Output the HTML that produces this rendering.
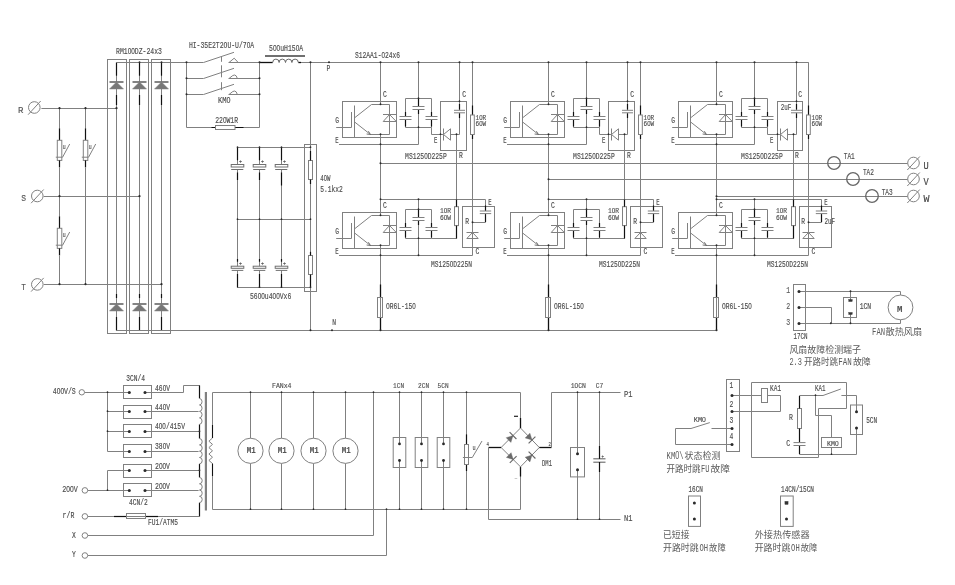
<!DOCTYPE html>
<html><head><meta charset="utf-8"><title>Inverter main circuit</title>
<style>
html,body{margin:0;padding:0;background:#fff;}
svg{display:block;font-family:"Liberation Sans","Noto Sans CJK SC",sans-serif;}
</style></head><body>
<svg width="955" height="585" viewBox="0 0 955 585">
<rect x="0" y="0" width="955" height="585" fill="#fff"/>
<defs><filter id="gs" x="0" y="0" width="955" height="585" filterUnits="userSpaceOnUse" color-interpolation-filters="sRGB"><feColorMatrix type="saturate" values="0"/></filter></defs>
<g filter="url(#gs)">
<circle cx="34.3" cy="107.5" r="5.8" fill="none" stroke="#808080" stroke-width="1"/>
<line x1="28.1" y1="114.7" x2="40.7" y2="101.0" stroke="#808080" stroke-width="1"/>
<circle cx="37.3" cy="196.0" r="5.8" fill="none" stroke="#808080" stroke-width="1"/>
<line x1="31.1" y1="203.2" x2="43.7" y2="189.5" stroke="#808080" stroke-width="1"/>
<circle cx="37.3" cy="284.4" r="5.8" fill="none" stroke="#808080" stroke-width="1"/>
<line x1="31.1" y1="291.6" x2="43.7" y2="277.9" stroke="#808080" stroke-width="1"/>
<text x="17.9" y="113.0" font-size="9.98" fill="#555" stroke="#555" stroke-width="0.15" font-family="Liberation Mono, monospace" textLength="5.4" lengthAdjust="spacingAndGlyphs">R</text>
<text x="21.3" y="200.8" font-size="9.77" fill="#555" stroke="#555" stroke-width="0.15" font-family="Liberation Mono, monospace" textLength="4.8" lengthAdjust="spacingAndGlyphs">S</text>
<text x="21.3" y="289.8" font-size="9.77" fill="#555" stroke="#555" stroke-width="0.15" font-family="Liberation Mono, monospace" textLength="4.7" lengthAdjust="spacingAndGlyphs">T</text>
<line x1="41.4" y1="108.5" x2="116.5" y2="108.5" stroke="#808080" stroke-width="1"/>
<line x1="43.7" y1="196.5" x2="139.5" y2="196.5" stroke="#808080" stroke-width="1"/>
<line x1="43.7" y1="284.5" x2="161.5" y2="284.5" stroke="#808080" stroke-width="1"/>
<line x1="59.5" y1="108.5" x2="59.5" y2="128.3" stroke="#808080" stroke-width="1"/>
<line x1="59.5" y1="128.3" x2="59.5" y2="140.3" stroke="#111" stroke-width="1.2"/>
<rect x="57.3" y="140.3" width="4.5" height="20.1" fill="#fff" stroke="#808080" stroke-width="1"/>
<line x1="59.5" y1="160.4" x2="59.5" y2="167.4" stroke="#111" stroke-width="1.2"/>
<line x1="59.5" y1="167.4" x2="59.5" y2="196.5" stroke="#808080" stroke-width="1"/>
<line x1="55.8" y1="157.2" x2="62.6" y2="157.2" stroke="#808080" stroke-width="1"/>
<line x1="62.6" y1="157.2" x2="69.7" y2="144.0" stroke="#808080" stroke-width="1"/>
<text x="62.7" y="148.6" font-size="6.51" fill="#4c4c4c" stroke="#4c4c4c" stroke-width="0.15" font-family="Liberation Mono, monospace" textLength="2.9" lengthAdjust="spacingAndGlyphs">u</text>
<line x1="85.5" y1="108.5" x2="85.5" y2="128.3" stroke="#808080" stroke-width="1"/>
<line x1="85.5" y1="128.3" x2="85.5" y2="140.3" stroke="#111" stroke-width="1.2"/>
<rect x="83.3" y="140.3" width="4.5" height="20.1" fill="#fff" stroke="#808080" stroke-width="1"/>
<line x1="85.5" y1="160.4" x2="85.5" y2="167.4" stroke="#111" stroke-width="1.2"/>
<line x1="85.5" y1="167.4" x2="85.5" y2="284.5" stroke="#808080" stroke-width="1"/>
<line x1="81.8" y1="157.2" x2="88.6" y2="157.2" stroke="#808080" stroke-width="1"/>
<line x1="88.6" y1="157.2" x2="95.7" y2="144.0" stroke="#808080" stroke-width="1"/>
<text x="88.7" y="148.6" font-size="6.51" fill="#4c4c4c" stroke="#4c4c4c" stroke-width="0.15" font-family="Liberation Mono, monospace" textLength="2.9" lengthAdjust="spacingAndGlyphs">u</text>
<line x1="59.5" y1="196.5" x2="59.5" y2="216.3" stroke="#808080" stroke-width="1"/>
<line x1="59.5" y1="216.3" x2="59.5" y2="228.3" stroke="#111" stroke-width="1.2"/>
<rect x="57.3" y="228.3" width="4.5" height="20.1" fill="#fff" stroke="#808080" stroke-width="1"/>
<line x1="59.5" y1="248.4" x2="59.5" y2="255.4" stroke="#111" stroke-width="1.2"/>
<line x1="59.5" y1="255.4" x2="59.5" y2="284.5" stroke="#808080" stroke-width="1"/>
<line x1="55.8" y1="245.2" x2="62.6" y2="245.2" stroke="#808080" stroke-width="1"/>
<line x1="62.6" y1="245.2" x2="69.7" y2="232.0" stroke="#808080" stroke-width="1"/>
<text x="62.7" y="236.6" font-size="6.51" fill="#4c4c4c" stroke="#4c4c4c" stroke-width="0.15" font-family="Liberation Mono, monospace" textLength="2.9" lengthAdjust="spacingAndGlyphs">u</text>
<rect x="107.5" y="59.5" width="19.0" height="274.0" fill="none" stroke="#808080" stroke-width="1"/>
<line x1="116.5" y1="62.5" x2="116.5" y2="330.5" stroke="#808080" stroke-width="1"/>
<line x1="116.5" y1="62.5" x2="116.5" y2="75.7" stroke="#111" stroke-width="1.2"/>
<line x1="116.5" y1="95.0" x2="116.5" y2="105.0" stroke="#111" stroke-width="1.2"/>
<line x1="116.5" y1="294.0" x2="116.5" y2="298.0" stroke="#111" stroke-width="1.2"/>
<line x1="116.5" y1="317.0" x2="116.5" y2="330.5" stroke="#111" stroke-width="1.2"/>
<line x1="109.5" y1="82.0" x2="123.5" y2="82.0" stroke="#777" stroke-width="1.8"/>
<polygon points="116.5,82.0 109.5,89.0 123.5,89.0" fill="#777" stroke="#808080" stroke-width="0.5"/>
<line x1="109.5" y1="304.0" x2="123.5" y2="304.0" stroke="#777" stroke-width="1.8"/>
<polygon points="116.5,304.0 109.5,311.0 123.5,311.0" fill="#777" stroke="#808080" stroke-width="0.5"/>
<rect x="129.5" y="59.5" width="19.0" height="274.0" fill="none" stroke="#808080" stroke-width="1"/>
<line x1="139.5" y1="62.5" x2="139.5" y2="330.5" stroke="#808080" stroke-width="1"/>
<line x1="139.5" y1="62.5" x2="139.5" y2="75.7" stroke="#111" stroke-width="1.2"/>
<line x1="139.5" y1="95.0" x2="139.5" y2="105.0" stroke="#111" stroke-width="1.2"/>
<line x1="139.5" y1="294.0" x2="139.5" y2="298.0" stroke="#111" stroke-width="1.2"/>
<line x1="139.5" y1="317.0" x2="139.5" y2="330.5" stroke="#111" stroke-width="1.2"/>
<line x1="132.5" y1="82.0" x2="146.5" y2="82.0" stroke="#777" stroke-width="1.8"/>
<polygon points="139.5,82.0 132.5,89.0 146.5,89.0" fill="#777" stroke="#808080" stroke-width="0.5"/>
<line x1="132.5" y1="304.0" x2="146.5" y2="304.0" stroke="#777" stroke-width="1.8"/>
<polygon points="139.5,304.0 132.5,311.0 146.5,311.0" fill="#777" stroke="#808080" stroke-width="0.5"/>
<rect x="151.5" y="59.5" width="19.0" height="274.0" fill="none" stroke="#808080" stroke-width="1"/>
<line x1="161.5" y1="62.5" x2="161.5" y2="330.5" stroke="#808080" stroke-width="1"/>
<line x1="161.5" y1="62.5" x2="161.5" y2="75.7" stroke="#111" stroke-width="1.2"/>
<line x1="161.5" y1="95.0" x2="161.5" y2="105.0" stroke="#111" stroke-width="1.2"/>
<line x1="161.5" y1="294.0" x2="161.5" y2="298.0" stroke="#111" stroke-width="1.2"/>
<line x1="161.5" y1="317.0" x2="161.5" y2="330.5" stroke="#111" stroke-width="1.2"/>
<line x1="154.5" y1="82.0" x2="168.5" y2="82.0" stroke="#777" stroke-width="1.8"/>
<polygon points="161.5,82.0 154.5,89.0 168.5,89.0" fill="#777" stroke="#808080" stroke-width="0.5"/>
<line x1="154.5" y1="304.0" x2="168.5" y2="304.0" stroke="#777" stroke-width="1.8"/>
<polygon points="161.5,304.0 154.5,311.0 168.5,311.0" fill="#777" stroke="#808080" stroke-width="0.5"/>
<line x1="116.5" y1="62.5" x2="186.5" y2="62.5" stroke="#808080" stroke-width="1"/>
<line x1="116.5" y1="330.5" x2="310.5" y2="330.5" stroke="#808080" stroke-width="1"/>
<text x="116.0" y="53.8" font-size="8.46" fill="#4c4c4c" stroke="#4c4c4c" stroke-width="0.15" font-family="Liberation Mono, monospace" textLength="46.0" lengthAdjust="spacingAndGlyphs">RM1<tspan font-family="Liberation Sans, sans-serif">0</tspan><tspan font-family="Liberation Sans, sans-serif">0</tspan>DZ-24x3</text>
<line x1="186.5" y1="62.5" x2="186.5" y2="127.5" stroke="#808080" stroke-width="1"/>
<line x1="259.5" y1="62.5" x2="259.5" y2="127.5" stroke="#808080" stroke-width="1"/>
<line x1="186.5" y1="62.5" x2="203.5" y2="62.5" stroke="#808080" stroke-width="1"/>
<line x1="203.5" y1="62.5" x2="234.0" y2="52.3" stroke="#808080" stroke-width="1"/>
<line x1="228.5" y1="62.5" x2="259.5" y2="62.5" stroke="#808080" stroke-width="1"/>
<polyline points="229.0,62.5 234.2,58.2 238.2,62.5" fill="none" stroke="#808080" stroke-width="1"/>
<line x1="186.5" y1="78.5" x2="203.5" y2="78.5" stroke="#808080" stroke-width="1"/>
<line x1="203.5" y1="78.5" x2="234.0" y2="68.3" stroke="#808080" stroke-width="1"/>
<line x1="228.5" y1="78.5" x2="259.5" y2="78.5" stroke="#808080" stroke-width="1"/>
<path d="M229,78.5 L232.8,75.5 Q234.8,74.3 236.2,75.9 L237.4,78.5" fill="none" stroke="#808080" stroke-width="1"/>
<line x1="186.5" y1="94.5" x2="203.5" y2="94.5" stroke="#808080" stroke-width="1"/>
<line x1="203.5" y1="94.5" x2="234.0" y2="84.3" stroke="#808080" stroke-width="1"/>
<line x1="228.5" y1="94.5" x2="259.5" y2="94.5" stroke="#808080" stroke-width="1"/>
<path d="M229,94.5 L232.8,91.5 Q234.8,90.3 236.2,91.9 L237.4,94.5" fill="none" stroke="#808080" stroke-width="1"/>
<line x1="221.5" y1="56.0" x2="221.5" y2="61.8" stroke="#808080" stroke-width="1"/>
<line x1="221.5" y1="65.3" x2="221.5" y2="77.3" stroke="#808080" stroke-width="1"/>
<line x1="221.5" y1="82.2" x2="221.5" y2="90.2" stroke="#808080" stroke-width="1"/>
<line x1="186.5" y1="127.5" x2="259.5" y2="127.5" stroke="#808080" stroke-width="1"/>
<line x1="211.5" y1="127.5" x2="243.5" y2="127.5" stroke="#111" stroke-width="1.2"/>
<rect x="215.5" y="125.5" width="19.5" height="4.0" fill="#fff" stroke="#808080" stroke-width="1"/>
<text x="188.9" y="48.2" font-size="8.68" fill="#4c4c4c" stroke="#4c4c4c" stroke-width="0.15" font-family="Liberation Mono, monospace" textLength="65.2" lengthAdjust="spacingAndGlyphs">HI-35E2T2OU-U/7<tspan font-family="Liberation Sans, sans-serif">0</tspan>A</text>
<text x="218.0" y="102.8" font-size="8.14" fill="#4c4c4c" stroke="#4c4c4c" stroke-width="0.15" font-family="Liberation Mono, monospace" textLength="12.5" lengthAdjust="spacingAndGlyphs">KM<tspan font-family="Liberation Sans, sans-serif">0</tspan></text>
<text x="215.2" y="122.8" font-size="8.14" fill="#4c4c4c" stroke="#4c4c4c" stroke-width="0.15" font-family="Liberation Mono, monospace" textLength="22.8" lengthAdjust="spacingAndGlyphs">22<tspan font-family="Liberation Sans, sans-serif">0</tspan>W1R</text>
<text x="269.1" y="50.9" font-size="8.14" fill="#4c4c4c" stroke="#4c4c4c" stroke-width="0.15" font-family="Liberation Mono, monospace" textLength="34.0" lengthAdjust="spacingAndGlyphs">5<tspan font-family="Liberation Sans, sans-serif">0</tspan><tspan font-family="Liberation Sans, sans-serif">0</tspan>uH15<tspan font-family="Liberation Sans, sans-serif">0</tspan>A</text>
<line x1="265.0" y1="56.0" x2="305.0" y2="56.0" stroke="#707070" stroke-width="2"/>
<line x1="259.5" y1="62.5" x2="272.7" y2="62.5" stroke="#111" stroke-width="1.3"/>
<line x1="298.3" y1="62.5" x2="301.0" y2="62.5" stroke="#111" stroke-width="1.3"/>
<path d="M272.7,62.5 a3.2,3.4 0 0 1 6.4,0 a3.2,3.4 0 0 1 6.4,0 a3.2,3.4 0 0 1 6.4,0 a3.2,3.4 0 0 1 6.4,0" fill="none" stroke="#666" stroke-width="1"/>
<line x1="301.0" y1="62.5" x2="808.5" y2="62.5" stroke="#808080" stroke-width="1"/>
<text x="326.6" y="71.0" font-size="8.46" fill="#4c4c4c" stroke="#4c4c4c" stroke-width="0.15" font-family="Liberation Mono, monospace" textLength="3.8" lengthAdjust="spacingAndGlyphs">P</text>
<text x="332.3" y="324.6" font-size="8.46" fill="#4c4c4c" stroke="#4c4c4c" stroke-width="0.15" font-family="Liberation Mono, monospace" textLength="3.8" lengthAdjust="spacingAndGlyphs">N</text>
<line x1="310.5" y1="62.5" x2="310.5" y2="330.5" stroke="#808080" stroke-width="1"/>
<rect x="304.5" y="144.5" width="12.0" height="147.0" fill="none" stroke="#808080" stroke-width="1"/>
<line x1="237.5" y1="147.5" x2="310.5" y2="147.5" stroke="#808080" stroke-width="1"/>
<line x1="237.5" y1="219.5" x2="310.5" y2="219.5" stroke="#808080" stroke-width="1"/>
<line x1="237.5" y1="287.5" x2="310.5" y2="287.5" stroke="#808080" stroke-width="1"/>
<line x1="237.5" y1="147.5" x2="237.5" y2="287.5" stroke="#808080" stroke-width="1"/>
<line x1="237.5" y1="148.0" x2="237.5" y2="160.3" stroke="#111" stroke-width="1.2"/>
<line x1="237.5" y1="172.5" x2="237.5" y2="180.0" stroke="#111" stroke-width="1.2"/>
<rect x="231.2" y="164.5" width="12.6" height="5.0" fill="#fff" stroke="#fff" stroke-width="0"/>
<rect x="231.2" y="164.5" width="12.6" height="2.5" fill="none" stroke="#707070" stroke-width="1"/>
<line x1="231.2" y1="169.5" x2="243.3" y2="169.5" stroke="#707070" stroke-width="1"/>
<text x="239.1" y="163.3" font-size="5.42" fill="#4c4c4c" stroke="#4c4c4c" stroke-width="0.15" font-family="Liberation Mono, monospace" textLength="3.0" lengthAdjust="spacingAndGlyphs">+</text>
<line x1="237.5" y1="259.0" x2="237.5" y2="261.7" stroke="#111" stroke-width="1.2"/>
<line x1="237.5" y1="274.0" x2="237.5" y2="287.5" stroke="#111" stroke-width="1.2"/>
<rect x="231.2" y="266.2" width="12.6" height="4.2" fill="#fff" stroke="#fff" stroke-width="0"/>
<rect x="231.2" y="266.2" width="12.6" height="2.1" fill="none" stroke="#707070" stroke-width="1"/>
<line x1="231.7" y1="270.4" x2="243.3" y2="270.4" stroke="#707070" stroke-width="1"/>
<text x="239.1" y="264.8" font-size="5.42" fill="#4c4c4c" stroke="#4c4c4c" stroke-width="0.15" font-family="Liberation Mono, monospace" textLength="3.0" lengthAdjust="spacingAndGlyphs">+</text>
<line x1="259.5" y1="147.5" x2="259.5" y2="287.5" stroke="#808080" stroke-width="1"/>
<line x1="259.5" y1="148.0" x2="259.5" y2="160.3" stroke="#111" stroke-width="1.2"/>
<line x1="259.5" y1="172.5" x2="259.5" y2="180.0" stroke="#111" stroke-width="1.2"/>
<rect x="253.2" y="164.5" width="12.6" height="5.0" fill="#fff" stroke="#fff" stroke-width="0"/>
<rect x="253.2" y="164.5" width="12.6" height="2.5" fill="none" stroke="#707070" stroke-width="1"/>
<line x1="253.2" y1="169.5" x2="265.3" y2="169.5" stroke="#707070" stroke-width="1"/>
<text x="261.1" y="163.3" font-size="5.42" fill="#4c4c4c" stroke="#4c4c4c" stroke-width="0.15" font-family="Liberation Mono, monospace" textLength="3.0" lengthAdjust="spacingAndGlyphs">+</text>
<line x1="259.5" y1="259.0" x2="259.5" y2="261.7" stroke="#111" stroke-width="1.2"/>
<line x1="259.5" y1="274.0" x2="259.5" y2="287.5" stroke="#111" stroke-width="1.2"/>
<rect x="253.2" y="266.2" width="12.6" height="4.2" fill="#fff" stroke="#fff" stroke-width="0"/>
<rect x="253.2" y="266.2" width="12.6" height="2.1" fill="none" stroke="#707070" stroke-width="1"/>
<line x1="253.7" y1="270.4" x2="265.3" y2="270.4" stroke="#707070" stroke-width="1"/>
<text x="261.1" y="264.8" font-size="5.42" fill="#4c4c4c" stroke="#4c4c4c" stroke-width="0.15" font-family="Liberation Mono, monospace" textLength="3.0" lengthAdjust="spacingAndGlyphs">+</text>
<line x1="281.5" y1="147.5" x2="281.5" y2="287.5" stroke="#808080" stroke-width="1"/>
<line x1="281.5" y1="148.0" x2="281.5" y2="160.3" stroke="#111" stroke-width="1.2"/>
<line x1="281.5" y1="172.5" x2="281.5" y2="185.5" stroke="#111" stroke-width="1.2"/>
<rect x="275.2" y="164.5" width="12.6" height="5.0" fill="#fff" stroke="#fff" stroke-width="0"/>
<rect x="275.2" y="164.5" width="12.6" height="2.5" fill="none" stroke="#707070" stroke-width="1"/>
<line x1="275.2" y1="169.5" x2="287.3" y2="169.5" stroke="#707070" stroke-width="1"/>
<text x="283.1" y="163.3" font-size="5.42" fill="#4c4c4c" stroke="#4c4c4c" stroke-width="0.15" font-family="Liberation Mono, monospace" textLength="3.0" lengthAdjust="spacingAndGlyphs">+</text>
<line x1="281.5" y1="259.0" x2="281.5" y2="261.7" stroke="#111" stroke-width="1.2"/>
<line x1="281.5" y1="274.0" x2="281.5" y2="287.5" stroke="#111" stroke-width="1.2"/>
<rect x="275.2" y="266.2" width="12.6" height="4.2" fill="#fff" stroke="#fff" stroke-width="0"/>
<rect x="275.2" y="266.2" width="12.6" height="2.1" fill="none" stroke="#707070" stroke-width="1"/>
<line x1="275.7" y1="270.4" x2="287.3" y2="270.4" stroke="#707070" stroke-width="1"/>
<text x="283.1" y="264.8" font-size="5.42" fill="#4c4c4c" stroke="#4c4c4c" stroke-width="0.15" font-family="Liberation Mono, monospace" textLength="3.0" lengthAdjust="spacingAndGlyphs">+</text>
<rect x="308.5" y="160.5" width="4.0" height="19.0" fill="#fff" stroke="#808080" stroke-width="1"/>
<line x1="310.5" y1="151.0" x2="310.5" y2="160.5" stroke="#111" stroke-width="1.2"/>
<line x1="310.5" y1="179.5" x2="310.5" y2="184.0" stroke="#111" stroke-width="1.2"/>
<rect x="308.5" y="255.5" width="4.0" height="19.0" fill="#fff" stroke="#808080" stroke-width="1"/>
<line x1="310.5" y1="251.8" x2="310.5" y2="255.5" stroke="#111" stroke-width="1.2"/>
<line x1="310.5" y1="274.5" x2="310.5" y2="287.5" stroke="#111" stroke-width="1.2"/>
<text x="320.3" y="181.0" font-size="8.14" fill="#4c4c4c" stroke="#4c4c4c" stroke-width="0.15" font-family="Liberation Mono, monospace" textLength="10.0" lengthAdjust="spacingAndGlyphs">4<tspan font-family="Liberation Sans, sans-serif">0</tspan>W</text>
<text x="320.3" y="191.8" font-size="8.14" fill="#4c4c4c" stroke="#4c4c4c" stroke-width="0.15" font-family="Liberation Mono, monospace" textLength="22.5" lengthAdjust="spacingAndGlyphs">5.1kx2</text>
<text x="250.0" y="298.6" font-size="8.14" fill="#4c4c4c" stroke="#4c4c4c" stroke-width="0.15" font-family="Liberation Mono, monospace" textLength="41.3" lengthAdjust="spacingAndGlyphs">56<tspan font-family="Liberation Sans, sans-serif">0</tspan><tspan font-family="Liberation Sans, sans-serif">0</tspan>u4<tspan font-family="Liberation Sans, sans-serif">0</tspan><tspan font-family="Liberation Sans, sans-serif">0</tspan>Vx6</text>
<line x1="380.5" y1="62.5" x2="380.5" y2="104.5" stroke="#808080" stroke-width="1"/>
<rect x="342.5" y="101.5" width="54.0" height="36.0" fill="none" stroke="#808080" stroke-width="1"/>
<line x1="351.5" y1="112.0" x2="351.5" y2="127.5" stroke="#808080" stroke-width="1"/>
<line x1="336.2" y1="127.5" x2="351.5" y2="127.5" stroke="#808080" stroke-width="1"/>
<line x1="354.5" y1="105.5" x2="354.5" y2="137.0" stroke="#808080" stroke-width="1"/>
<polyline points="354.5,117.9 371.5,104.5 389.5,104.5 389.5,134.5 370.0,134.5" fill="none" stroke="#808080" stroke-width="1"/>
<line x1="354.5" y1="121.9" x2="370.5" y2="134.5" stroke="#808080" stroke-width="1"/>
<polyline points="366.6,134.0 370.5,134.5 368.4,131.2" fill="none" stroke="#666" stroke-width="0.9"/>
<line x1="383.0" y1="114.5" x2="396.5" y2="114.5" stroke="#808080" stroke-width="1"/>
<polygon points="389.5,114.5 383.2,121.5 396.3,121.5" fill="none" stroke="#808080" stroke-width="1"/>
<text x="335.3" y="122.8" font-size="8.14" fill="#4c4c4c" stroke="#4c4c4c" stroke-width="0.15" font-family="Liberation Mono, monospace" textLength="3.8" lengthAdjust="spacingAndGlyphs">G</text>
<text x="335.3" y="142.9" font-size="8.14" fill="#4c4c4c" stroke="#4c4c4c" stroke-width="0.15" font-family="Liberation Mono, monospace" textLength="3.4" lengthAdjust="spacingAndGlyphs">E</text>
<text x="383.1" y="96.7" font-size="8.14" fill="#4c4c4c" stroke="#4c4c4c" stroke-width="0.15" font-family="Liberation Mono, monospace" textLength="3.8" lengthAdjust="spacingAndGlyphs">C</text>
<line x1="339.0" y1="144.5" x2="418.5" y2="144.5" stroke="#808080" stroke-width="1"/>
<line x1="380.5" y1="134.5" x2="380.5" y2="215.0" stroke="#808080" stroke-width="1"/>
<line x1="418.5" y1="62.5" x2="418.5" y2="144.5" stroke="#808080" stroke-width="1"/>
<polyline points="405.5,127.5 405.5,98.5 431.5,98.5 431.5,127.5" fill="none" stroke="#808080" stroke-width="1"/>
<line x1="405.5" y1="127.5" x2="431.5" y2="127.5" stroke="#808080" stroke-width="1"/>
<rect x="412.5" y="106.5" width="12.0" height="3.0" fill="#fff" stroke="#fff" stroke-width="0"/>
<line x1="412.5" y1="106.5" x2="424.5" y2="106.5" stroke="#808080" stroke-width="1"/>
<line x1="412.5" y1="109.5" x2="424.5" y2="109.5" stroke="#808080" stroke-width="1"/>
<line x1="418.5" y1="99.0" x2="418.5" y2="106.0" stroke="#111" stroke-width="1.2"/>
<line x1="418.5" y1="110.0" x2="418.5" y2="114.0" stroke="#111" stroke-width="1.2"/>
<rect x="399.5" y="116.5" width="12.0" height="3.0" fill="#fff" stroke="#fff" stroke-width="0"/>
<line x1="399.5" y1="116.5" x2="411.5" y2="116.5" stroke="#808080" stroke-width="1"/>
<line x1="399.5" y1="119.5" x2="411.5" y2="119.5" stroke="#808080" stroke-width="1"/>
<line x1="405.5" y1="112.0" x2="405.5" y2="116.0" stroke="#111" stroke-width="1.2"/>
<line x1="405.5" y1="120.0" x2="405.5" y2="126.5" stroke="#111" stroke-width="1.2"/>
<rect x="425.5" y="116.5" width="12.0" height="3.0" fill="#fff" stroke="#fff" stroke-width="0"/>
<line x1="425.5" y1="116.5" x2="437.5" y2="116.5" stroke="#808080" stroke-width="1"/>
<line x1="425.5" y1="119.5" x2="437.5" y2="119.5" stroke="#808080" stroke-width="1"/>
<line x1="431.5" y1="112.0" x2="431.5" y2="116.0" stroke="#111" stroke-width="1.2"/>
<line x1="431.5" y1="120.0" x2="431.5" y2="126.5" stroke="#111" stroke-width="1.2"/>
<polyline points="431.5,127.5 431.5,134.5 441.0,134.5" fill="none" stroke="#808080" stroke-width="1"/>
<rect x="440.5" y="101.5" width="26.0" height="49.0" fill="none" stroke="#808080" stroke-width="1"/>
<line x1="459.5" y1="62.5" x2="459.5" y2="134.5" stroke="#808080" stroke-width="1"/>
<rect x="454.0" y="110.3" width="11.0" height="2.5" fill="#fff" stroke="#fff" stroke-width="0"/>
<line x1="454.0" y1="110.3" x2="465.0" y2="110.3" stroke="#808080" stroke-width="1"/>
<line x1="454.0" y1="112.8" x2="465.0" y2="112.8" stroke="#808080" stroke-width="1"/>
<line x1="459.5" y1="104.0" x2="459.5" y2="109.5" stroke="#111" stroke-width="1.2"/>
<line x1="459.5" y1="113.5" x2="459.5" y2="118.0" stroke="#111" stroke-width="1.2"/>
<line x1="440.5" y1="134.5" x2="459.5" y2="134.5" stroke="#808080" stroke-width="1"/>
<line x1="443.5" y1="128.5" x2="443.5" y2="140.5" stroke="#808080" stroke-width="1"/>
<polygon points="443.5,134.5 450.5,128.8 450.5,140.2" fill="#fff" stroke="#808080" stroke-width="1"/>
<text x="462.2" y="96.7" font-size="8.14" fill="#4c4c4c" stroke="#4c4c4c" stroke-width="0.15" font-family="Liberation Mono, monospace" textLength="3.8" lengthAdjust="spacingAndGlyphs">C</text>
<text x="434.0" y="143.2" font-size="8.14" fill="#4c4c4c" stroke="#4c4c4c" stroke-width="0.15" font-family="Liberation Mono, monospace" textLength="3.4" lengthAdjust="spacingAndGlyphs">E</text>
<text x="458.9" y="158.4" font-size="8.14" fill="#4c4c4c" stroke="#4c4c4c" stroke-width="0.15" font-family="Liberation Mono, monospace" textLength="3.8" lengthAdjust="spacingAndGlyphs">R</text>
<text x="405.1" y="158.6" font-size="8.68" fill="#4c4c4c" stroke="#4c4c4c" stroke-width="0.15" font-family="Liberation Mono, monospace" textLength="41.6" lengthAdjust="spacingAndGlyphs">MS125<tspan font-family="Liberation Sans, sans-serif">0</tspan>D225P</text>
<line x1="456.5" y1="134.5" x2="456.5" y2="238.5" stroke="#808080" stroke-width="1"/>
<line x1="472.5" y1="62.5" x2="472.5" y2="255.5" stroke="#808080" stroke-width="1"/>
<line x1="472.5" y1="105.5" x2="472.5" y2="115.0" stroke="#111" stroke-width="1.2"/>
<line x1="472.5" y1="134.5" x2="472.5" y2="139.0" stroke="#111" stroke-width="1.2"/>
<rect x="470.5" y="115.0" width="3.8" height="19.5" fill="#fff" stroke="#808080" stroke-width="1"/>
<text x="475.6" y="120.2" font-size="7.59" fill="#4c4c4c" stroke="#4c4c4c" stroke-width="0.15" font-family="Liberation Mono, monospace" textLength="10.5" lengthAdjust="spacingAndGlyphs">1<tspan font-family="Liberation Sans, sans-serif">0</tspan>R</text>
<text x="475.6" y="125.8" font-size="7.59" fill="#4c4c4c" stroke="#4c4c4c" stroke-width="0.15" font-family="Liberation Mono, monospace" textLength="10.5" lengthAdjust="spacingAndGlyphs">6<tspan font-family="Liberation Sans, sans-serif">0</tspan>W</text>
<line x1="380.5" y1="199.5" x2="485.5" y2="199.5" stroke="#808080" stroke-width="1"/>
<rect x="342.5" y="212.5" width="54.0" height="36.0" fill="none" stroke="#808080" stroke-width="1"/>
<line x1="351.5" y1="223.0" x2="351.5" y2="238.5" stroke="#808080" stroke-width="1"/>
<line x1="336.2" y1="238.5" x2="351.5" y2="238.5" stroke="#808080" stroke-width="1"/>
<line x1="354.5" y1="216.5" x2="354.5" y2="248.0" stroke="#808080" stroke-width="1"/>
<polyline points="354.5,228.9 371.5,215.5 389.5,215.5 389.5,245.5 370.0,245.5" fill="none" stroke="#808080" stroke-width="1"/>
<line x1="354.5" y1="232.9" x2="370.5" y2="245.5" stroke="#808080" stroke-width="1"/>
<polyline points="366.6,245.0 370.5,245.5 368.4,242.2" fill="none" stroke="#666" stroke-width="0.9"/>
<line x1="383.0" y1="225.5" x2="396.5" y2="225.5" stroke="#808080" stroke-width="1"/>
<polygon points="389.5,225.5 383.2,232.5 396.3,232.5" fill="none" stroke="#808080" stroke-width="1"/>
<text x="335.3" y="233.8" font-size="8.14" fill="#4c4c4c" stroke="#4c4c4c" stroke-width="0.15" font-family="Liberation Mono, monospace" textLength="3.8" lengthAdjust="spacingAndGlyphs">G</text>
<text x="335.3" y="253.9" font-size="8.14" fill="#4c4c4c" stroke="#4c4c4c" stroke-width="0.15" font-family="Liberation Mono, monospace" textLength="3.4" lengthAdjust="spacingAndGlyphs">E</text>
<text x="383.1" y="207.7" font-size="8.14" fill="#4c4c4c" stroke="#4c4c4c" stroke-width="0.15" font-family="Liberation Mono, monospace" textLength="3.8" lengthAdjust="spacingAndGlyphs">C</text>
<line x1="339.0" y1="255.5" x2="418.5" y2="255.5" stroke="#808080" stroke-width="1"/>
<line x1="380.5" y1="245.5" x2="380.5" y2="297.0" stroke="#808080" stroke-width="1"/>
<line x1="418.5" y1="255.5" x2="472.5" y2="255.5" stroke="#808080" stroke-width="1"/>
<line x1="418.5" y1="199.5" x2="418.5" y2="255.5" stroke="#808080" stroke-width="1"/>
<polyline points="405.5,238.5 405.5,209.5 431.5,209.5 431.5,238.5" fill="none" stroke="#808080" stroke-width="1"/>
<line x1="405.5" y1="238.5" x2="431.5" y2="238.5" stroke="#808080" stroke-width="1"/>
<rect x="412.5" y="217.5" width="12.0" height="3.0" fill="#fff" stroke="#fff" stroke-width="0"/>
<line x1="412.5" y1="217.5" x2="424.5" y2="217.5" stroke="#808080" stroke-width="1"/>
<line x1="412.5" y1="220.5" x2="424.5" y2="220.5" stroke="#808080" stroke-width="1"/>
<line x1="418.5" y1="210.0" x2="418.5" y2="217.0" stroke="#111" stroke-width="1.2"/>
<line x1="418.5" y1="221.0" x2="418.5" y2="225.0" stroke="#111" stroke-width="1.2"/>
<rect x="399.5" y="227.5" width="12.0" height="3.0" fill="#fff" stroke="#fff" stroke-width="0"/>
<line x1="399.5" y1="227.5" x2="411.5" y2="227.5" stroke="#808080" stroke-width="1"/>
<line x1="399.5" y1="230.5" x2="411.5" y2="230.5" stroke="#808080" stroke-width="1"/>
<line x1="405.5" y1="223.0" x2="405.5" y2="227.0" stroke="#111" stroke-width="1.2"/>
<line x1="405.5" y1="231.0" x2="405.5" y2="237.5" stroke="#111" stroke-width="1.2"/>
<rect x="425.5" y="227.5" width="12.0" height="3.0" fill="#fff" stroke="#fff" stroke-width="0"/>
<line x1="425.5" y1="227.5" x2="437.5" y2="227.5" stroke="#808080" stroke-width="1"/>
<line x1="425.5" y1="230.5" x2="437.5" y2="230.5" stroke="#808080" stroke-width="1"/>
<line x1="431.5" y1="223.0" x2="431.5" y2="227.0" stroke="#111" stroke-width="1.2"/>
<line x1="431.5" y1="231.0" x2="431.5" y2="237.5" stroke="#111" stroke-width="1.2"/>
<line x1="431.5" y1="238.5" x2="456.5" y2="238.5" stroke="#808080" stroke-width="1"/>
<rect x="454.5" y="206.7" width="4.0" height="18.9" fill="#fff" stroke="#808080" stroke-width="1"/>
<line x1="456.5" y1="199.5" x2="456.5" y2="206.7" stroke="#111" stroke-width="1.2"/>
<line x1="456.5" y1="225.6" x2="456.5" y2="238.5" stroke="#111" stroke-width="1.2"/>
<text x="440.0" y="212.9" font-size="7.59" fill="#4c4c4c" stroke="#4c4c4c" stroke-width="0.15" font-family="Liberation Mono, monospace" textLength="11.0" lengthAdjust="spacingAndGlyphs">1<tspan font-family="Liberation Sans, sans-serif">0</tspan>R</text>
<text x="440.0" y="220.2" font-size="7.59" fill="#4c4c4c" stroke="#4c4c4c" stroke-width="0.15" font-family="Liberation Mono, monospace" textLength="11.0" lengthAdjust="spacingAndGlyphs">6<tspan font-family="Liberation Sans, sans-serif">0</tspan>W</text>
<rect x="462.5" y="206.5" width="32.0" height="41.0" fill="none" stroke="#808080" stroke-width="1"/>
<line x1="485.5" y1="199.5" x2="485.5" y2="222.5" stroke="#808080" stroke-width="1"/>
<line x1="472.5" y1="222.5" x2="485.5" y2="222.5" stroke="#808080" stroke-width="1"/>
<rect x="479.8" y="211.0" width="11.4" height="2.6" fill="#fff" stroke="#fff" stroke-width="0"/>
<line x1="479.8" y1="211.0" x2="491.2" y2="211.0" stroke="#808080" stroke-width="1"/>
<line x1="479.8" y1="213.6" x2="491.2" y2="213.6" stroke="#808080" stroke-width="1"/>
<line x1="485.5" y1="205.5" x2="485.5" y2="210.5" stroke="#111" stroke-width="1.2"/>
<line x1="485.5" y1="214.2" x2="485.5" y2="222.0" stroke="#111" stroke-width="1.2"/>
<line x1="466.5" y1="232.5" x2="478.5" y2="232.5" stroke="#808080" stroke-width="1"/>
<polygon points="472.5,232.5 466.8,238.5 478.2,238.5" fill="#fff" stroke="#808080" stroke-width="1"/>
<line x1="472.5" y1="232.5" x2="472.5" y2="238.5" stroke="#808080" stroke-width="1"/>
<text x="488.2" y="204.6" font-size="8.14" fill="#4c4c4c" stroke="#4c4c4c" stroke-width="0.15" font-family="Liberation Mono, monospace" textLength="3.4" lengthAdjust="spacingAndGlyphs">E</text>
<text x="465.3" y="223.9" font-size="8.14" fill="#4c4c4c" stroke="#4c4c4c" stroke-width="0.15" font-family="Liberation Mono, monospace" textLength="3.8" lengthAdjust="spacingAndGlyphs">R</text>
<text x="475.6" y="253.9" font-size="8.14" fill="#4c4c4c" stroke="#4c4c4c" stroke-width="0.15" font-family="Liberation Mono, monospace" textLength="3.8" lengthAdjust="spacingAndGlyphs">C</text>
<text x="431.0" y="266.9" font-size="8.68" fill="#4c4c4c" stroke="#4c4c4c" stroke-width="0.15" font-family="Liberation Mono, monospace" textLength="41.0" lengthAdjust="spacingAndGlyphs">MS125<tspan font-family="Liberation Sans, sans-serif">0</tspan>D225N</text>
<line x1="380.5" y1="284.5" x2="380.5" y2="297.2" stroke="#111" stroke-width="1.3"/>
<line x1="380.5" y1="317.3" x2="380.5" y2="330.5" stroke="#111" stroke-width="1.3"/>
<line x1="380.5" y1="297.0" x2="380.5" y2="317.5" stroke="#808080" stroke-width="1"/>
<rect x="377.5" y="297.5" width="5.0" height="20.0" fill="none" stroke="#808080" stroke-width="1"/>
<text x="386.0" y="308.8" font-size="8.79" fill="#4c4c4c" stroke="#4c4c4c" stroke-width="0.15" font-family="Liberation Mono, monospace" textLength="29.8" lengthAdjust="spacingAndGlyphs">OR6L-15<tspan font-family="Liberation Sans, sans-serif">0</tspan></text>
<line x1="548.5" y1="62.5" x2="548.5" y2="104.5" stroke="#808080" stroke-width="1"/>
<rect x="510.5" y="101.5" width="54.0" height="36.0" fill="none" stroke="#808080" stroke-width="1"/>
<line x1="519.5" y1="112.0" x2="519.5" y2="127.5" stroke="#808080" stroke-width="1"/>
<line x1="504.2" y1="127.5" x2="519.5" y2="127.5" stroke="#808080" stroke-width="1"/>
<line x1="522.5" y1="105.5" x2="522.5" y2="137.0" stroke="#808080" stroke-width="1"/>
<polyline points="522.5,117.9 539.5,104.5 557.5,104.5 557.5,134.5 538.0,134.5" fill="none" stroke="#808080" stroke-width="1"/>
<line x1="522.5" y1="121.9" x2="538.5" y2="134.5" stroke="#808080" stroke-width="1"/>
<polyline points="534.6,134.0 538.5,134.5 536.4,131.2" fill="none" stroke="#666" stroke-width="0.9"/>
<line x1="551.0" y1="114.5" x2="564.5" y2="114.5" stroke="#808080" stroke-width="1"/>
<polygon points="557.5,114.5 551.2,121.5 564.3,121.5" fill="none" stroke="#808080" stroke-width="1"/>
<text x="503.3" y="122.8" font-size="8.14" fill="#4c4c4c" stroke="#4c4c4c" stroke-width="0.15" font-family="Liberation Mono, monospace" textLength="3.8" lengthAdjust="spacingAndGlyphs">G</text>
<text x="503.3" y="142.9" font-size="8.14" fill="#4c4c4c" stroke="#4c4c4c" stroke-width="0.15" font-family="Liberation Mono, monospace" textLength="3.4" lengthAdjust="spacingAndGlyphs">E</text>
<text x="551.1" y="96.7" font-size="8.14" fill="#4c4c4c" stroke="#4c4c4c" stroke-width="0.15" font-family="Liberation Mono, monospace" textLength="3.8" lengthAdjust="spacingAndGlyphs">C</text>
<line x1="507.0" y1="144.5" x2="586.5" y2="144.5" stroke="#808080" stroke-width="1"/>
<line x1="548.5" y1="134.5" x2="548.5" y2="215.0" stroke="#808080" stroke-width="1"/>
<line x1="586.5" y1="62.5" x2="586.5" y2="144.5" stroke="#808080" stroke-width="1"/>
<polyline points="573.5,127.5 573.5,98.5 599.5,98.5 599.5,127.5" fill="none" stroke="#808080" stroke-width="1"/>
<line x1="573.5" y1="127.5" x2="599.5" y2="127.5" stroke="#808080" stroke-width="1"/>
<rect x="580.5" y="106.5" width="12.0" height="3.0" fill="#fff" stroke="#fff" stroke-width="0"/>
<line x1="580.5" y1="106.5" x2="592.5" y2="106.5" stroke="#808080" stroke-width="1"/>
<line x1="580.5" y1="109.5" x2="592.5" y2="109.5" stroke="#808080" stroke-width="1"/>
<line x1="586.5" y1="99.0" x2="586.5" y2="106.0" stroke="#111" stroke-width="1.2"/>
<line x1="586.5" y1="110.0" x2="586.5" y2="114.0" stroke="#111" stroke-width="1.2"/>
<rect x="567.5" y="116.5" width="12.0" height="3.0" fill="#fff" stroke="#fff" stroke-width="0"/>
<line x1="567.5" y1="116.5" x2="579.5" y2="116.5" stroke="#808080" stroke-width="1"/>
<line x1="567.5" y1="119.5" x2="579.5" y2="119.5" stroke="#808080" stroke-width="1"/>
<line x1="573.5" y1="112.0" x2="573.5" y2="116.0" stroke="#111" stroke-width="1.2"/>
<line x1="573.5" y1="120.0" x2="573.5" y2="126.5" stroke="#111" stroke-width="1.2"/>
<rect x="593.5" y="116.5" width="12.0" height="3.0" fill="#fff" stroke="#fff" stroke-width="0"/>
<line x1="593.5" y1="116.5" x2="605.5" y2="116.5" stroke="#808080" stroke-width="1"/>
<line x1="593.5" y1="119.5" x2="605.5" y2="119.5" stroke="#808080" stroke-width="1"/>
<line x1="599.5" y1="112.0" x2="599.5" y2="116.0" stroke="#111" stroke-width="1.2"/>
<line x1="599.5" y1="120.0" x2="599.5" y2="126.5" stroke="#111" stroke-width="1.2"/>
<polyline points="599.5,127.5 599.5,134.5 609.0,134.5" fill="none" stroke="#808080" stroke-width="1"/>
<rect x="608.5" y="101.5" width="26.0" height="49.0" fill="none" stroke="#808080" stroke-width="1"/>
<line x1="627.5" y1="62.5" x2="627.5" y2="134.5" stroke="#808080" stroke-width="1"/>
<rect x="622.0" y="110.3" width="11.0" height="2.5" fill="#fff" stroke="#fff" stroke-width="0"/>
<line x1="622.0" y1="110.3" x2="633.0" y2="110.3" stroke="#808080" stroke-width="1"/>
<line x1="622.0" y1="112.8" x2="633.0" y2="112.8" stroke="#808080" stroke-width="1"/>
<line x1="627.5" y1="104.0" x2="627.5" y2="109.5" stroke="#111" stroke-width="1.2"/>
<line x1="627.5" y1="113.5" x2="627.5" y2="118.0" stroke="#111" stroke-width="1.2"/>
<line x1="608.5" y1="134.5" x2="627.5" y2="134.5" stroke="#808080" stroke-width="1"/>
<line x1="611.5" y1="128.5" x2="611.5" y2="140.5" stroke="#808080" stroke-width="1"/>
<polygon points="611.5,134.5 618.5,128.8 618.5,140.2" fill="#fff" stroke="#808080" stroke-width="1"/>
<text x="630.2" y="96.7" font-size="8.14" fill="#4c4c4c" stroke="#4c4c4c" stroke-width="0.15" font-family="Liberation Mono, monospace" textLength="3.8" lengthAdjust="spacingAndGlyphs">C</text>
<text x="602.0" y="143.2" font-size="8.14" fill="#4c4c4c" stroke="#4c4c4c" stroke-width="0.15" font-family="Liberation Mono, monospace" textLength="3.4" lengthAdjust="spacingAndGlyphs">E</text>
<text x="626.9" y="158.4" font-size="8.14" fill="#4c4c4c" stroke="#4c4c4c" stroke-width="0.15" font-family="Liberation Mono, monospace" textLength="3.8" lengthAdjust="spacingAndGlyphs">R</text>
<text x="573.1" y="158.6" font-size="8.68" fill="#4c4c4c" stroke="#4c4c4c" stroke-width="0.15" font-family="Liberation Mono, monospace" textLength="41.6" lengthAdjust="spacingAndGlyphs">MS125<tspan font-family="Liberation Sans, sans-serif">0</tspan>D225P</text>
<line x1="624.5" y1="134.5" x2="624.5" y2="238.5" stroke="#808080" stroke-width="1"/>
<line x1="640.5" y1="62.5" x2="640.5" y2="255.5" stroke="#808080" stroke-width="1"/>
<line x1="640.5" y1="105.5" x2="640.5" y2="115.0" stroke="#111" stroke-width="1.2"/>
<line x1="640.5" y1="134.5" x2="640.5" y2="139.0" stroke="#111" stroke-width="1.2"/>
<rect x="638.5" y="115.0" width="3.8" height="19.5" fill="#fff" stroke="#808080" stroke-width="1"/>
<text x="643.6" y="120.2" font-size="7.59" fill="#4c4c4c" stroke="#4c4c4c" stroke-width="0.15" font-family="Liberation Mono, monospace" textLength="10.5" lengthAdjust="spacingAndGlyphs">1<tspan font-family="Liberation Sans, sans-serif">0</tspan>R</text>
<text x="643.6" y="125.8" font-size="7.59" fill="#4c4c4c" stroke="#4c4c4c" stroke-width="0.15" font-family="Liberation Mono, monospace" textLength="10.5" lengthAdjust="spacingAndGlyphs">6<tspan font-family="Liberation Sans, sans-serif">0</tspan>W</text>
<line x1="548.5" y1="199.5" x2="653.5" y2="199.5" stroke="#808080" stroke-width="1"/>
<rect x="510.5" y="212.5" width="54.0" height="36.0" fill="none" stroke="#808080" stroke-width="1"/>
<line x1="519.5" y1="223.0" x2="519.5" y2="238.5" stroke="#808080" stroke-width="1"/>
<line x1="504.2" y1="238.5" x2="519.5" y2="238.5" stroke="#808080" stroke-width="1"/>
<line x1="522.5" y1="216.5" x2="522.5" y2="248.0" stroke="#808080" stroke-width="1"/>
<polyline points="522.5,228.9 539.5,215.5 557.5,215.5 557.5,245.5 538.0,245.5" fill="none" stroke="#808080" stroke-width="1"/>
<line x1="522.5" y1="232.9" x2="538.5" y2="245.5" stroke="#808080" stroke-width="1"/>
<polyline points="534.6,245.0 538.5,245.5 536.4,242.2" fill="none" stroke="#666" stroke-width="0.9"/>
<line x1="551.0" y1="225.5" x2="564.5" y2="225.5" stroke="#808080" stroke-width="1"/>
<polygon points="557.5,225.5 551.2,232.5 564.3,232.5" fill="none" stroke="#808080" stroke-width="1"/>
<text x="503.3" y="233.8" font-size="8.14" fill="#4c4c4c" stroke="#4c4c4c" stroke-width="0.15" font-family="Liberation Mono, monospace" textLength="3.8" lengthAdjust="spacingAndGlyphs">G</text>
<text x="503.3" y="253.9" font-size="8.14" fill="#4c4c4c" stroke="#4c4c4c" stroke-width="0.15" font-family="Liberation Mono, monospace" textLength="3.4" lengthAdjust="spacingAndGlyphs">E</text>
<text x="551.1" y="207.7" font-size="8.14" fill="#4c4c4c" stroke="#4c4c4c" stroke-width="0.15" font-family="Liberation Mono, monospace" textLength="3.8" lengthAdjust="spacingAndGlyphs">C</text>
<line x1="507.0" y1="255.5" x2="586.5" y2="255.5" stroke="#808080" stroke-width="1"/>
<line x1="548.5" y1="245.5" x2="548.5" y2="297.0" stroke="#808080" stroke-width="1"/>
<line x1="586.5" y1="255.5" x2="640.5" y2="255.5" stroke="#808080" stroke-width="1"/>
<line x1="586.5" y1="199.5" x2="586.5" y2="255.5" stroke="#808080" stroke-width="1"/>
<polyline points="573.5,238.5 573.5,209.5 599.5,209.5 599.5,238.5" fill="none" stroke="#808080" stroke-width="1"/>
<line x1="573.5" y1="238.5" x2="599.5" y2="238.5" stroke="#808080" stroke-width="1"/>
<rect x="580.5" y="217.5" width="12.0" height="3.0" fill="#fff" stroke="#fff" stroke-width="0"/>
<line x1="580.5" y1="217.5" x2="592.5" y2="217.5" stroke="#808080" stroke-width="1"/>
<line x1="580.5" y1="220.5" x2="592.5" y2="220.5" stroke="#808080" stroke-width="1"/>
<line x1="586.5" y1="210.0" x2="586.5" y2="217.0" stroke="#111" stroke-width="1.2"/>
<line x1="586.5" y1="221.0" x2="586.5" y2="225.0" stroke="#111" stroke-width="1.2"/>
<rect x="567.5" y="227.5" width="12.0" height="3.0" fill="#fff" stroke="#fff" stroke-width="0"/>
<line x1="567.5" y1="227.5" x2="579.5" y2="227.5" stroke="#808080" stroke-width="1"/>
<line x1="567.5" y1="230.5" x2="579.5" y2="230.5" stroke="#808080" stroke-width="1"/>
<line x1="573.5" y1="223.0" x2="573.5" y2="227.0" stroke="#111" stroke-width="1.2"/>
<line x1="573.5" y1="231.0" x2="573.5" y2="237.5" stroke="#111" stroke-width="1.2"/>
<rect x="593.5" y="227.5" width="12.0" height="3.0" fill="#fff" stroke="#fff" stroke-width="0"/>
<line x1="593.5" y1="227.5" x2="605.5" y2="227.5" stroke="#808080" stroke-width="1"/>
<line x1="593.5" y1="230.5" x2="605.5" y2="230.5" stroke="#808080" stroke-width="1"/>
<line x1="599.5" y1="223.0" x2="599.5" y2="227.0" stroke="#111" stroke-width="1.2"/>
<line x1="599.5" y1="231.0" x2="599.5" y2="237.5" stroke="#111" stroke-width="1.2"/>
<line x1="599.5" y1="238.5" x2="624.5" y2="238.5" stroke="#808080" stroke-width="1"/>
<rect x="622.5" y="206.7" width="4.0" height="18.9" fill="#fff" stroke="#808080" stroke-width="1"/>
<line x1="624.5" y1="199.5" x2="624.5" y2="206.7" stroke="#111" stroke-width="1.2"/>
<line x1="624.5" y1="225.6" x2="624.5" y2="238.5" stroke="#111" stroke-width="1.2"/>
<text x="608.0" y="212.9" font-size="7.59" fill="#4c4c4c" stroke="#4c4c4c" stroke-width="0.15" font-family="Liberation Mono, monospace" textLength="11.0" lengthAdjust="spacingAndGlyphs">1<tspan font-family="Liberation Sans, sans-serif">0</tspan>R</text>
<text x="608.0" y="220.2" font-size="7.59" fill="#4c4c4c" stroke="#4c4c4c" stroke-width="0.15" font-family="Liberation Mono, monospace" textLength="11.0" lengthAdjust="spacingAndGlyphs">6<tspan font-family="Liberation Sans, sans-serif">0</tspan>W</text>
<rect x="630.5" y="206.5" width="32.0" height="41.0" fill="none" stroke="#808080" stroke-width="1"/>
<line x1="653.5" y1="199.5" x2="653.5" y2="222.5" stroke="#808080" stroke-width="1"/>
<line x1="640.5" y1="222.5" x2="653.5" y2="222.5" stroke="#808080" stroke-width="1"/>
<rect x="647.8" y="211.0" width="11.4" height="2.6" fill="#fff" stroke="#fff" stroke-width="0"/>
<line x1="647.8" y1="211.0" x2="659.2" y2="211.0" stroke="#808080" stroke-width="1"/>
<line x1="647.8" y1="213.6" x2="659.2" y2="213.6" stroke="#808080" stroke-width="1"/>
<line x1="653.5" y1="205.5" x2="653.5" y2="210.5" stroke="#111" stroke-width="1.2"/>
<line x1="653.5" y1="214.2" x2="653.5" y2="222.0" stroke="#111" stroke-width="1.2"/>
<line x1="634.5" y1="232.5" x2="646.5" y2="232.5" stroke="#808080" stroke-width="1"/>
<polygon points="640.5,232.5 634.8,238.5 646.2,238.5" fill="#fff" stroke="#808080" stroke-width="1"/>
<line x1="640.5" y1="232.5" x2="640.5" y2="238.5" stroke="#808080" stroke-width="1"/>
<text x="656.2" y="204.6" font-size="8.14" fill="#4c4c4c" stroke="#4c4c4c" stroke-width="0.15" font-family="Liberation Mono, monospace" textLength="3.4" lengthAdjust="spacingAndGlyphs">E</text>
<text x="633.3" y="223.9" font-size="8.14" fill="#4c4c4c" stroke="#4c4c4c" stroke-width="0.15" font-family="Liberation Mono, monospace" textLength="3.8" lengthAdjust="spacingAndGlyphs">R</text>
<text x="643.6" y="253.9" font-size="8.14" fill="#4c4c4c" stroke="#4c4c4c" stroke-width="0.15" font-family="Liberation Mono, monospace" textLength="3.8" lengthAdjust="spacingAndGlyphs">C</text>
<text x="599.0" y="266.9" font-size="8.68" fill="#4c4c4c" stroke="#4c4c4c" stroke-width="0.15" font-family="Liberation Mono, monospace" textLength="41.0" lengthAdjust="spacingAndGlyphs">MS125<tspan font-family="Liberation Sans, sans-serif">0</tspan>D225N</text>
<line x1="548.5" y1="284.5" x2="548.5" y2="297.2" stroke="#111" stroke-width="1.3"/>
<line x1="548.5" y1="317.3" x2="548.5" y2="330.5" stroke="#111" stroke-width="1.3"/>
<line x1="548.5" y1="297.0" x2="548.5" y2="317.5" stroke="#808080" stroke-width="1"/>
<rect x="545.5" y="297.5" width="5.0" height="20.0" fill="none" stroke="#808080" stroke-width="1"/>
<text x="554.0" y="308.8" font-size="8.79" fill="#4c4c4c" stroke="#4c4c4c" stroke-width="0.15" font-family="Liberation Mono, monospace" textLength="29.8" lengthAdjust="spacingAndGlyphs">OR6L-15<tspan font-family="Liberation Sans, sans-serif">0</tspan></text>
<line x1="716.5" y1="62.5" x2="716.5" y2="104.5" stroke="#808080" stroke-width="1"/>
<rect x="678.5" y="101.5" width="54.0" height="36.0" fill="none" stroke="#808080" stroke-width="1"/>
<line x1="687.5" y1="112.0" x2="687.5" y2="127.5" stroke="#808080" stroke-width="1"/>
<line x1="672.2" y1="127.5" x2="687.5" y2="127.5" stroke="#808080" stroke-width="1"/>
<line x1="690.5" y1="105.5" x2="690.5" y2="137.0" stroke="#808080" stroke-width="1"/>
<polyline points="690.5,117.9 707.5,104.5 725.5,104.5 725.5,134.5 706.0,134.5" fill="none" stroke="#808080" stroke-width="1"/>
<line x1="690.5" y1="121.9" x2="706.5" y2="134.5" stroke="#808080" stroke-width="1"/>
<polyline points="702.6,134.0 706.5,134.5 704.4,131.2" fill="none" stroke="#666" stroke-width="0.9"/>
<line x1="719.0" y1="114.5" x2="732.5" y2="114.5" stroke="#808080" stroke-width="1"/>
<polygon points="725.5,114.5 719.2,121.5 732.3,121.5" fill="none" stroke="#808080" stroke-width="1"/>
<text x="671.3" y="122.8" font-size="8.14" fill="#4c4c4c" stroke="#4c4c4c" stroke-width="0.15" font-family="Liberation Mono, monospace" textLength="3.8" lengthAdjust="spacingAndGlyphs">G</text>
<text x="671.3" y="142.9" font-size="8.14" fill="#4c4c4c" stroke="#4c4c4c" stroke-width="0.15" font-family="Liberation Mono, monospace" textLength="3.4" lengthAdjust="spacingAndGlyphs">E</text>
<text x="719.1" y="96.7" font-size="8.14" fill="#4c4c4c" stroke="#4c4c4c" stroke-width="0.15" font-family="Liberation Mono, monospace" textLength="3.8" lengthAdjust="spacingAndGlyphs">C</text>
<line x1="675.0" y1="144.5" x2="754.5" y2="144.5" stroke="#808080" stroke-width="1"/>
<line x1="716.5" y1="134.5" x2="716.5" y2="215.0" stroke="#808080" stroke-width="1"/>
<line x1="754.5" y1="62.5" x2="754.5" y2="144.5" stroke="#808080" stroke-width="1"/>
<polyline points="741.5,127.5 741.5,98.5 767.5,98.5 767.5,127.5" fill="none" stroke="#808080" stroke-width="1"/>
<line x1="741.5" y1="127.5" x2="767.5" y2="127.5" stroke="#808080" stroke-width="1"/>
<rect x="748.5" y="106.5" width="12.0" height="3.0" fill="#fff" stroke="#fff" stroke-width="0"/>
<line x1="748.5" y1="106.5" x2="760.5" y2="106.5" stroke="#808080" stroke-width="1"/>
<line x1="748.5" y1="109.5" x2="760.5" y2="109.5" stroke="#808080" stroke-width="1"/>
<line x1="754.5" y1="99.0" x2="754.5" y2="106.0" stroke="#111" stroke-width="1.2"/>
<line x1="754.5" y1="110.0" x2="754.5" y2="114.0" stroke="#111" stroke-width="1.2"/>
<rect x="735.5" y="116.5" width="12.0" height="3.0" fill="#fff" stroke="#fff" stroke-width="0"/>
<line x1="735.5" y1="116.5" x2="747.5" y2="116.5" stroke="#808080" stroke-width="1"/>
<line x1="735.5" y1="119.5" x2="747.5" y2="119.5" stroke="#808080" stroke-width="1"/>
<line x1="741.5" y1="112.0" x2="741.5" y2="116.0" stroke="#111" stroke-width="1.2"/>
<line x1="741.5" y1="120.0" x2="741.5" y2="126.5" stroke="#111" stroke-width="1.2"/>
<rect x="761.5" y="116.5" width="12.0" height="3.0" fill="#fff" stroke="#fff" stroke-width="0"/>
<line x1="761.5" y1="116.5" x2="773.5" y2="116.5" stroke="#808080" stroke-width="1"/>
<line x1="761.5" y1="119.5" x2="773.5" y2="119.5" stroke="#808080" stroke-width="1"/>
<line x1="767.5" y1="112.0" x2="767.5" y2="116.0" stroke="#111" stroke-width="1.2"/>
<line x1="767.5" y1="120.0" x2="767.5" y2="126.5" stroke="#111" stroke-width="1.2"/>
<polyline points="767.5,127.5 767.5,134.5 778.0,134.5" fill="none" stroke="#808080" stroke-width="1"/>
<rect x="777.5" y="101.5" width="25.0" height="49.0" fill="none" stroke="#808080" stroke-width="1"/>
<line x1="796.5" y1="62.5" x2="796.5" y2="134.5" stroke="#808080" stroke-width="1"/>
<rect x="791.0" y="110.3" width="10.7" height="2.5" fill="#fff" stroke="#fff" stroke-width="0"/>
<line x1="791.0" y1="110.3" x2="802.5" y2="110.3" stroke="#808080" stroke-width="1"/>
<line x1="791.0" y1="112.8" x2="802.5" y2="112.8" stroke="#808080" stroke-width="1"/>
<line x1="796.5" y1="104.0" x2="796.5" y2="109.5" stroke="#111" stroke-width="1.2"/>
<line x1="796.5" y1="113.5" x2="796.5" y2="118.0" stroke="#111" stroke-width="1.2"/>
<line x1="777.5" y1="134.5" x2="796.5" y2="134.5" stroke="#808080" stroke-width="1"/>
<line x1="780.5" y1="128.5" x2="780.5" y2="140.5" stroke="#808080" stroke-width="1"/>
<polygon points="780.5,134.5 787.5,128.8 787.5,140.2" fill="#fff" stroke="#808080" stroke-width="1"/>
<text x="798.2" y="96.7" font-size="8.14" fill="#4c4c4c" stroke="#4c4c4c" stroke-width="0.15" font-family="Liberation Mono, monospace" textLength="3.8" lengthAdjust="spacingAndGlyphs">C</text>
<text x="770.0" y="143.2" font-size="8.14" fill="#4c4c4c" stroke="#4c4c4c" stroke-width="0.15" font-family="Liberation Mono, monospace" textLength="3.4" lengthAdjust="spacingAndGlyphs">E</text>
<text x="794.9" y="158.4" font-size="8.14" fill="#4c4c4c" stroke="#4c4c4c" stroke-width="0.15" font-family="Liberation Mono, monospace" textLength="3.8" lengthAdjust="spacingAndGlyphs">R</text>
<text x="741.1" y="158.6" font-size="8.68" fill="#4c4c4c" stroke="#4c4c4c" stroke-width="0.15" font-family="Liberation Mono, monospace" textLength="41.6" lengthAdjust="spacingAndGlyphs">MS125<tspan font-family="Liberation Sans, sans-serif">0</tspan>D225P</text>
<line x1="793.5" y1="134.5" x2="793.5" y2="238.5" stroke="#808080" stroke-width="1"/>
<line x1="808.5" y1="62.5" x2="808.5" y2="255.5" stroke="#808080" stroke-width="1"/>
<line x1="808.5" y1="105.5" x2="808.5" y2="115.0" stroke="#111" stroke-width="1.2"/>
<line x1="808.5" y1="134.5" x2="808.5" y2="139.0" stroke="#111" stroke-width="1.2"/>
<rect x="806.5" y="115.0" width="3.8" height="19.5" fill="#fff" stroke="#808080" stroke-width="1"/>
<text x="811.6" y="120.2" font-size="7.59" fill="#4c4c4c" stroke="#4c4c4c" stroke-width="0.15" font-family="Liberation Mono, monospace" textLength="10.5" lengthAdjust="spacingAndGlyphs">1<tspan font-family="Liberation Sans, sans-serif">0</tspan>R</text>
<text x="811.6" y="125.8" font-size="7.59" fill="#4c4c4c" stroke="#4c4c4c" stroke-width="0.15" font-family="Liberation Mono, monospace" textLength="10.5" lengthAdjust="spacingAndGlyphs">6<tspan font-family="Liberation Sans, sans-serif">0</tspan>W</text>
<line x1="716.5" y1="199.5" x2="821.5" y2="199.5" stroke="#808080" stroke-width="1"/>
<rect x="678.5" y="212.5" width="54.0" height="36.0" fill="none" stroke="#808080" stroke-width="1"/>
<line x1="687.5" y1="223.0" x2="687.5" y2="238.5" stroke="#808080" stroke-width="1"/>
<line x1="672.2" y1="238.5" x2="687.5" y2="238.5" stroke="#808080" stroke-width="1"/>
<line x1="690.5" y1="216.5" x2="690.5" y2="248.0" stroke="#808080" stroke-width="1"/>
<polyline points="690.5,228.9 707.5,215.5 725.5,215.5 725.5,245.5 706.0,245.5" fill="none" stroke="#808080" stroke-width="1"/>
<line x1="690.5" y1="232.9" x2="706.5" y2="245.5" stroke="#808080" stroke-width="1"/>
<polyline points="702.6,245.0 706.5,245.5 704.4,242.2" fill="none" stroke="#666" stroke-width="0.9"/>
<line x1="719.0" y1="225.5" x2="732.5" y2="225.5" stroke="#808080" stroke-width="1"/>
<polygon points="725.5,225.5 719.2,232.5 732.3,232.5" fill="none" stroke="#808080" stroke-width="1"/>
<text x="671.3" y="233.8" font-size="8.14" fill="#4c4c4c" stroke="#4c4c4c" stroke-width="0.15" font-family="Liberation Mono, monospace" textLength="3.8" lengthAdjust="spacingAndGlyphs">G</text>
<text x="671.3" y="253.9" font-size="8.14" fill="#4c4c4c" stroke="#4c4c4c" stroke-width="0.15" font-family="Liberation Mono, monospace" textLength="3.4" lengthAdjust="spacingAndGlyphs">E</text>
<text x="719.1" y="207.7" font-size="8.14" fill="#4c4c4c" stroke="#4c4c4c" stroke-width="0.15" font-family="Liberation Mono, monospace" textLength="3.8" lengthAdjust="spacingAndGlyphs">C</text>
<line x1="675.0" y1="255.5" x2="754.5" y2="255.5" stroke="#808080" stroke-width="1"/>
<line x1="716.5" y1="245.5" x2="716.5" y2="297.0" stroke="#808080" stroke-width="1"/>
<line x1="754.5" y1="255.5" x2="808.5" y2="255.5" stroke="#808080" stroke-width="1"/>
<line x1="754.5" y1="199.5" x2="754.5" y2="255.5" stroke="#808080" stroke-width="1"/>
<polyline points="741.5,238.5 741.5,209.5 767.5,209.5 767.5,238.5" fill="none" stroke="#808080" stroke-width="1"/>
<line x1="741.5" y1="238.5" x2="767.5" y2="238.5" stroke="#808080" stroke-width="1"/>
<rect x="748.5" y="217.5" width="12.0" height="3.0" fill="#fff" stroke="#fff" stroke-width="0"/>
<line x1="748.5" y1="217.5" x2="760.5" y2="217.5" stroke="#808080" stroke-width="1"/>
<line x1="748.5" y1="220.5" x2="760.5" y2="220.5" stroke="#808080" stroke-width="1"/>
<line x1="754.5" y1="210.0" x2="754.5" y2="217.0" stroke="#111" stroke-width="1.2"/>
<line x1="754.5" y1="221.0" x2="754.5" y2="225.0" stroke="#111" stroke-width="1.2"/>
<rect x="735.5" y="227.5" width="12.0" height="3.0" fill="#fff" stroke="#fff" stroke-width="0"/>
<line x1="735.5" y1="227.5" x2="747.5" y2="227.5" stroke="#808080" stroke-width="1"/>
<line x1="735.5" y1="230.5" x2="747.5" y2="230.5" stroke="#808080" stroke-width="1"/>
<line x1="741.5" y1="223.0" x2="741.5" y2="227.0" stroke="#111" stroke-width="1.2"/>
<line x1="741.5" y1="231.0" x2="741.5" y2="237.5" stroke="#111" stroke-width="1.2"/>
<rect x="761.5" y="227.5" width="12.0" height="3.0" fill="#fff" stroke="#fff" stroke-width="0"/>
<line x1="761.5" y1="227.5" x2="773.5" y2="227.5" stroke="#808080" stroke-width="1"/>
<line x1="761.5" y1="230.5" x2="773.5" y2="230.5" stroke="#808080" stroke-width="1"/>
<line x1="767.5" y1="223.0" x2="767.5" y2="227.0" stroke="#111" stroke-width="1.2"/>
<line x1="767.5" y1="231.0" x2="767.5" y2="237.5" stroke="#111" stroke-width="1.2"/>
<line x1="767.5" y1="238.5" x2="793.5" y2="238.5" stroke="#808080" stroke-width="1"/>
<rect x="791.5" y="206.7" width="4.0" height="18.9" fill="#fff" stroke="#808080" stroke-width="1"/>
<line x1="793.5" y1="199.5" x2="793.5" y2="206.7" stroke="#111" stroke-width="1.2"/>
<line x1="793.5" y1="225.6" x2="793.5" y2="238.5" stroke="#111" stroke-width="1.2"/>
<text x="776.0" y="212.9" font-size="7.59" fill="#4c4c4c" stroke="#4c4c4c" stroke-width="0.15" font-family="Liberation Mono, monospace" textLength="11.0" lengthAdjust="spacingAndGlyphs">1<tspan font-family="Liberation Sans, sans-serif">0</tspan>R</text>
<text x="776.0" y="220.2" font-size="7.59" fill="#4c4c4c" stroke="#4c4c4c" stroke-width="0.15" font-family="Liberation Mono, monospace" textLength="11.0" lengthAdjust="spacingAndGlyphs">6<tspan font-family="Liberation Sans, sans-serif">0</tspan>W</text>
<rect x="799.5" y="206.5" width="32.0" height="41.0" fill="none" stroke="#808080" stroke-width="1"/>
<line x1="821.5" y1="199.5" x2="821.5" y2="222.5" stroke="#808080" stroke-width="1"/>
<line x1="808.5" y1="222.5" x2="821.5" y2="222.5" stroke="#808080" stroke-width="1"/>
<rect x="815.8" y="211.0" width="11.4" height="2.6" fill="#fff" stroke="#fff" stroke-width="0"/>
<line x1="815.8" y1="211.0" x2="827.2" y2="211.0" stroke="#808080" stroke-width="1"/>
<line x1="815.8" y1="213.6" x2="827.2" y2="213.6" stroke="#808080" stroke-width="1"/>
<line x1="821.5" y1="205.5" x2="821.5" y2="210.5" stroke="#111" stroke-width="1.2"/>
<line x1="821.5" y1="214.2" x2="821.5" y2="222.0" stroke="#111" stroke-width="1.2"/>
<line x1="802.5" y1="232.5" x2="814.5" y2="232.5" stroke="#808080" stroke-width="1"/>
<polygon points="808.5,232.5 802.8,238.5 814.2,238.5" fill="#fff" stroke="#808080" stroke-width="1"/>
<line x1="808.5" y1="232.5" x2="808.5" y2="238.5" stroke="#808080" stroke-width="1"/>
<text x="824.2" y="204.6" font-size="8.14" fill="#4c4c4c" stroke="#4c4c4c" stroke-width="0.15" font-family="Liberation Mono, monospace" textLength="3.4" lengthAdjust="spacingAndGlyphs">E</text>
<text x="801.3" y="223.9" font-size="8.14" fill="#4c4c4c" stroke="#4c4c4c" stroke-width="0.15" font-family="Liberation Mono, monospace" textLength="3.8" lengthAdjust="spacingAndGlyphs">R</text>
<text x="811.6" y="253.9" font-size="8.14" fill="#4c4c4c" stroke="#4c4c4c" stroke-width="0.15" font-family="Liberation Mono, monospace" textLength="3.8" lengthAdjust="spacingAndGlyphs">C</text>
<text x="767.0" y="266.9" font-size="8.68" fill="#4c4c4c" stroke="#4c4c4c" stroke-width="0.15" font-family="Liberation Mono, monospace" textLength="41.0" lengthAdjust="spacingAndGlyphs">MS125<tspan font-family="Liberation Sans, sans-serif">0</tspan>D225N</text>
<line x1="716.5" y1="284.5" x2="716.5" y2="297.2" stroke="#111" stroke-width="1.3"/>
<line x1="716.5" y1="317.3" x2="716.5" y2="330.5" stroke="#111" stroke-width="1.3"/>
<line x1="716.5" y1="297.0" x2="716.5" y2="317.5" stroke="#808080" stroke-width="1"/>
<rect x="713.5" y="297.5" width="5.0" height="20.0" fill="none" stroke="#808080" stroke-width="1"/>
<text x="722.0" y="308.8" font-size="8.79" fill="#4c4c4c" stroke="#4c4c4c" stroke-width="0.15" font-family="Liberation Mono, monospace" textLength="29.8" lengthAdjust="spacingAndGlyphs">OR6L-15<tspan font-family="Liberation Sans, sans-serif">0</tspan></text>
<line x1="310.5" y1="330.5" x2="716.5" y2="330.5" stroke="#808080" stroke-width="1"/>
<text x="355.0" y="57.9" font-size="8.25" fill="#4c4c4c" stroke="#4c4c4c" stroke-width="0.15" font-family="Liberation Mono, monospace" textLength="45.0" lengthAdjust="spacingAndGlyphs">S12AA1-<tspan font-family="Liberation Sans, sans-serif">0</tspan>24x6</text>
<line x1="808.5" y1="62.5" x2="808.5" y2="105.0" stroke="#808080" stroke-width="1"/>
<text x="780.7" y="109.5" font-size="8.14" fill="#4c4c4c" stroke="#4c4c4c" stroke-width="0.15" font-family="Liberation Mono, monospace" textLength="10.5" lengthAdjust="spacingAndGlyphs">2uF</text>
<text x="824.4" y="223.5" font-size="8.14" fill="#4c4c4c" stroke="#4c4c4c" stroke-width="0.15" font-family="Liberation Mono, monospace" textLength="10.5" lengthAdjust="spacingAndGlyphs">2uF</text>
<line x1="380.5" y1="163.5" x2="907.5" y2="163.5" stroke="#808080" stroke-width="1"/>
<line x1="548.5" y1="179.5" x2="907.5" y2="179.5" stroke="#808080" stroke-width="1"/>
<line x1="716.5" y1="196.5" x2="907.5" y2="196.5" stroke="#808080" stroke-width="1"/>
<circle cx="834.0" cy="163.0" r="6.3" fill="none" stroke="#666" stroke-width="1.3"/>
<text x="843.8" y="158.6" font-size="8.14" fill="#4c4c4c" stroke="#4c4c4c" stroke-width="0.15" font-family="Liberation Mono, monospace" textLength="11.0" lengthAdjust="spacingAndGlyphs">TA1</text>
<circle cx="853.0" cy="179.0" r="6.3" fill="none" stroke="#666" stroke-width="1.3"/>
<text x="862.9" y="174.8" font-size="8.14" fill="#4c4c4c" stroke="#4c4c4c" stroke-width="0.15" font-family="Liberation Mono, monospace" textLength="11.0" lengthAdjust="spacingAndGlyphs">TA2</text>
<circle cx="872.0" cy="196.0" r="6.3" fill="none" stroke="#666" stroke-width="1.3"/>
<text x="881.7" y="194.5" font-size="8.14" fill="#4c4c4c" stroke="#4c4c4c" stroke-width="0.15" font-family="Liberation Mono, monospace" textLength="11.0" lengthAdjust="spacingAndGlyphs">TA3</text>
<circle cx="913.5" cy="163.0" r="5.8" fill="none" stroke="#808080" stroke-width="1"/>
<line x1="907.3" y1="170.0" x2="919.8" y2="156.5" stroke="#808080" stroke-width="1"/>
<text x="923.4" y="168.7" font-size="10.42" fill="#444" stroke="#444" stroke-width="0.15" font-family="Liberation Mono, monospace" textLength="5.2" lengthAdjust="spacingAndGlyphs">U</text>
<circle cx="913.5" cy="179.0" r="5.8" fill="none" stroke="#808080" stroke-width="1"/>
<line x1="907.3" y1="186.0" x2="919.8" y2="172.5" stroke="#808080" stroke-width="1"/>
<text x="923.4" y="184.7" font-size="10.42" fill="#444" stroke="#444" stroke-width="0.15" font-family="Liberation Mono, monospace" textLength="5.2" lengthAdjust="spacingAndGlyphs">V</text>
<circle cx="913.5" cy="196.0" r="5.8" fill="none" stroke="#808080" stroke-width="1"/>
<line x1="907.3" y1="203.0" x2="919.8" y2="189.5" stroke="#808080" stroke-width="1"/>
<text x="923.4" y="201.7" font-size="10.42" fill="#444" stroke="#444" stroke-width="0.15" font-family="Liberation Mono, monospace" textLength="6.0" lengthAdjust="spacingAndGlyphs">W</text>
<rect x="793.5" y="284.5" width="12.0" height="46.0" fill="none" stroke="#808080" stroke-width="1"/>
<text x="786.2" y="292.9" font-size="8.9" fill="#5a5a5a" stroke="#5a5a5a" stroke-width="0.15" font-family="Liberation Mono, monospace" textLength="3.9" lengthAdjust="spacingAndGlyphs">1</text>
<text x="786.2" y="308.9" font-size="8.9" fill="#5a5a5a" stroke="#5a5a5a" stroke-width="0.15" font-family="Liberation Mono, monospace" textLength="3.9" lengthAdjust="spacingAndGlyphs">2</text>
<text x="786.2" y="324.9" font-size="8.9" fill="#5a5a5a" stroke="#5a5a5a" stroke-width="0.15" font-family="Liberation Mono, monospace" textLength="3.9" lengthAdjust="spacingAndGlyphs">3</text>
<polyline points="799.0,291.5 900.5,291.5 900.5,295.5" fill="none" stroke="#808080" stroke-width="1"/>
<polyline points="799.0,323.5 900.5,323.5 900.5,319.0" fill="none" stroke="#808080" stroke-width="1"/>
<polyline points="799.0,307.5 831.5,307.5 831.5,323.5" fill="none" stroke="#808080" stroke-width="1"/>
<line x1="850.5" y1="291.5" x2="850.5" y2="323.5" stroke="#808080" stroke-width="1"/>
<rect x="843.5" y="297.5" width="13.0" height="20.0" fill="#fff" stroke="#808080" stroke-width="1"/>
<line x1="850.5" y1="297.5" x2="850.5" y2="300.0" stroke="#808080" stroke-width="1"/>
<line x1="850.5" y1="314.0" x2="850.5" y2="317.5" stroke="#808080" stroke-width="1"/>
<rect x="848.7" y="299.4" width="3.6" height="2.2" fill="#333" stroke="#333" stroke-width="0.3"/>
<rect x="848.7" y="312.4" width="3.6" height="2.2" fill="#333" stroke="#333" stroke-width="0.3"/>
<circle cx="900.5" cy="307.4" r="12.4" fill="#fff" stroke="#808080" stroke-width="1"/>
<text x="897.0" y="312.2" font-size="9.55" fill="#555" stroke="#555" stroke-width="0.15" font-family="Liberation Mono, monospace" textLength="5.4" lengthAdjust="spacingAndGlyphs" font-weight="bold">M</text>
<text x="859.7" y="309.3" font-size="8.14" fill="#4c4c4c" stroke="#4c4c4c" stroke-width="0.15" font-family="Liberation Mono, monospace" textLength="11.5" lengthAdjust="spacingAndGlyphs">1CN</text>
<text x="793.6" y="339.0" font-size="8.14" fill="#4c4c4c" stroke="#4c4c4c" stroke-width="0.15" font-family="Liberation Mono, monospace" textLength="14.0" lengthAdjust="spacingAndGlyphs">17CN</text>
<text y="335.1" font-size="9" fill="#5a5a5a"><tspan x="872.1" font-family="Liberation Mono, monospace" font-size="10.3" textLength="13.0" lengthAdjust="spacingAndGlyphs">FAN</tspan><tspan x="885.5" textLength="36.6" lengthAdjust="spacingAndGlyphs">散热风扇</tspan></text>
<text y="352.5" font-size="9" fill="#5a5a5a"><tspan x="789.4" textLength="71.6" lengthAdjust="spacingAndGlyphs">风扇故障检测端子</tspan></text>
<text y="365.1" font-size="9" fill="#5a5a5a"><tspan x="789.4" font-family="Liberation Mono, monospace" font-size="10.3" textLength="12.5" lengthAdjust="spacingAndGlyphs">2.3</tspan><tspan x="803.9" textLength="34.0" lengthAdjust="spacingAndGlyphs">开路时跳</tspan><tspan x="838.3" font-family="Liberation Mono, monospace" font-size="10.3" textLength="13.5" lengthAdjust="spacingAndGlyphs">FAN</tspan><tspan x="852.9" textLength="17.8" lengthAdjust="spacingAndGlyphs">故障</tspan></text>
<rect x="123.5" y="385.5" width="28.0" height="13.0" fill="#fff" stroke="#808080" stroke-width="1"/>
<line x1="123.5" y1="392.5" x2="129.3" y2="392.5" stroke="#808080" stroke-width="1"/>
<line x1="145.0" y1="392.5" x2="151.5" y2="392.5" stroke="#808080" stroke-width="1"/>
<rect x="123.5" y="405.5" width="28.0" height="13.0" fill="#fff" stroke="#808080" stroke-width="1"/>
<line x1="123.5" y1="411.5" x2="129.3" y2="411.5" stroke="#808080" stroke-width="1"/>
<line x1="145.0" y1="411.5" x2="151.5" y2="411.5" stroke="#808080" stroke-width="1"/>
<rect x="123.5" y="424.5" width="28.0" height="13.0" fill="#fff" stroke="#808080" stroke-width="1"/>
<line x1="123.5" y1="431.5" x2="129.3" y2="431.5" stroke="#808080" stroke-width="1"/>
<line x1="145.0" y1="431.5" x2="151.5" y2="431.5" stroke="#808080" stroke-width="1"/>
<rect x="123.5" y="444.5" width="28.0" height="13.0" fill="#fff" stroke="#808080" stroke-width="1"/>
<line x1="123.5" y1="451.5" x2="129.3" y2="451.5" stroke="#808080" stroke-width="1"/>
<line x1="145.0" y1="451.5" x2="151.5" y2="451.5" stroke="#808080" stroke-width="1"/>
<rect x="123.5" y="464.5" width="28.0" height="13.0" fill="#fff" stroke="#808080" stroke-width="1"/>
<line x1="123.5" y1="470.5" x2="129.3" y2="470.5" stroke="#808080" stroke-width="1"/>
<line x1="145.0" y1="470.5" x2="151.5" y2="470.5" stroke="#808080" stroke-width="1"/>
<rect x="123.5" y="483.5" width="28.0" height="13.0" fill="#fff" stroke="#808080" stroke-width="1"/>
<line x1="123.5" y1="490.5" x2="129.3" y2="490.5" stroke="#808080" stroke-width="1"/>
<line x1="145.0" y1="490.5" x2="151.5" y2="490.5" stroke="#808080" stroke-width="1"/>
<circle cx="81.8" cy="392.3" r="2.7" fill="none" stroke="#808080" stroke-width="1"/>
<circle cx="84.9" cy="490.4" r="2.8" fill="none" stroke="#808080" stroke-width="1"/>
<circle cx="84.9" cy="516.4" r="2.8" fill="none" stroke="#808080" stroke-width="1"/>
<circle cx="84.9" cy="535.5" r="2.8" fill="none" stroke="#808080" stroke-width="1"/>
<circle cx="84.9" cy="555.5" r="2.8" fill="none" stroke="#808080" stroke-width="1"/>
<line x1="84.7" y1="392.5" x2="123.5" y2="392.5" stroke="#808080" stroke-width="1"/>
<line x1="107.5" y1="392.5" x2="107.5" y2="451.5" stroke="#808080" stroke-width="1"/>
<line x1="107.5" y1="411.5" x2="123.5" y2="411.5" stroke="#808080" stroke-width="1"/>
<line x1="107.5" y1="431.5" x2="123.5" y2="431.5" stroke="#808080" stroke-width="1"/>
<line x1="107.5" y1="451.5" x2="123.5" y2="451.5" stroke="#808080" stroke-width="1"/>
<line x1="87.8" y1="490.5" x2="123.5" y2="490.5" stroke="#808080" stroke-width="1"/>
<polyline points="107.5,490.5 107.5,470.5 123.5,470.5" fill="none" stroke="#808080" stroke-width="1"/>
<polyline points="151.5,392.5 183.5,392.5 183.5,385.5 199.5,385.5 199.5,398.0" fill="none" stroke="#808080" stroke-width="1"/>
<line x1="151.5" y1="411.5" x2="199.5" y2="411.5" stroke="#808080" stroke-width="1"/>
<line x1="151.5" y1="431.5" x2="199.5" y2="431.5" stroke="#808080" stroke-width="1"/>
<line x1="151.5" y1="451.5" x2="199.5" y2="451.5" stroke="#808080" stroke-width="1"/>
<line x1="151.5" y1="470.5" x2="199.5" y2="470.5" stroke="#808080" stroke-width="1"/>
<line x1="151.5" y1="490.5" x2="199.5" y2="490.5" stroke="#808080" stroke-width="1"/>
<line x1="199.5" y1="385.5" x2="199.5" y2="516.5" stroke="#808080" stroke-width="1"/>
<line x1="199.5" y1="385.5" x2="199.5" y2="398.5" stroke="#111" stroke-width="1.2"/>
<line x1="199.5" y1="424.3" x2="199.5" y2="438.6" stroke="#111" stroke-width="1.2"/>
<line x1="199.5" y1="463.8" x2="199.5" y2="477.5" stroke="#111" stroke-width="1.2"/>
<line x1="199.5" y1="502.6" x2="199.5" y2="516.5" stroke="#111" stroke-width="1.2"/>
<rect x="198.6" y="398.5" width="1.8" height="25.8" fill="#fff" stroke="#fff" stroke-width="0"/>
<path d="M199.5,398.5 a2.7,3.23 0 0 1 0,6.45 a2.7,3.23 0 0 1 0,6.45 a2.7,3.23 0 0 1 0,6.45 a2.7,3.23 0 0 1 0,6.45" fill="none" stroke="#808080" stroke-width="1"/>
<rect x="198.6" y="438.6" width="1.8" height="25.2" fill="#fff" stroke="#fff" stroke-width="0"/>
<path d="M199.5,438.6 a2.7,3.15 0 0 1 0,6.30 a2.7,3.15 0 0 1 0,6.30 a2.7,3.15 0 0 1 0,6.30 a2.7,3.15 0 0 1 0,6.30" fill="none" stroke="#808080" stroke-width="1"/>
<rect x="198.6" y="477.5" width="1.8" height="25.1" fill="#fff" stroke="#fff" stroke-width="0"/>
<path d="M199.5,477.5 a2.7,3.14 0 0 1 0,6.28 a2.7,3.14 0 0 1 0,6.28 a2.7,3.14 0 0 1 0,6.28 a2.7,3.14 0 0 1 0,6.28" fill="none" stroke="#808080" stroke-width="1"/>
<line x1="205.9" y1="392.0" x2="205.9" y2="510.5" stroke="#808080" stroke-width="2.2"/>
<line x1="212.5" y1="392.5" x2="212.5" y2="438.0" stroke="#808080" stroke-width="1"/>
<path d="M212.5,438 l-3.6,3.2 l3.6,3.2 l-3.6,3.2 l3.6,3.2 l-3.6,3.2 l3.6,3.2 l-3.6,3.2 l3.6,3.2" fill="none" stroke="#808080" stroke-width="1"/>
<line x1="212.5" y1="463.6" x2="212.5" y2="509.5" stroke="#808080" stroke-width="1"/>
<line x1="212.5" y1="425.0" x2="212.5" y2="438.0" stroke="#111" stroke-width="1.1"/>
<line x1="212.5" y1="463.6" x2="212.5" y2="476.0" stroke="#111" stroke-width="1.1"/>
<line x1="87.8" y1="516.5" x2="199.5" y2="516.5" stroke="#808080" stroke-width="1"/>
<line x1="114.0" y1="516.5" x2="126.5" y2="516.5" stroke="#111" stroke-width="1.2"/>
<line x1="145.5" y1="516.5" x2="158.0" y2="516.5" stroke="#111" stroke-width="1.2"/>
<rect x="126.5" y="513.5" width="19.0" height="5.0" fill="none" stroke="#808080" stroke-width="1"/>
<line x1="87.8" y1="535.5" x2="373.5" y2="535.5" stroke="#808080" stroke-width="1"/>
<line x1="373.5" y1="535.5" x2="373.5" y2="392.5" stroke="#808080" stroke-width="1"/>
<line x1="87.8" y1="555.5" x2="386.5" y2="555.5" stroke="#808080" stroke-width="1"/>
<line x1="386.5" y1="555.5" x2="386.5" y2="509.5" stroke="#808080" stroke-width="1"/>
<text x="52.8" y="394.0" font-size="8.14" fill="#4c4c4c" stroke="#4c4c4c" stroke-width="0.15" font-family="Liberation Mono, monospace" textLength="23.0" lengthAdjust="spacingAndGlyphs">4<tspan font-family="Liberation Sans, sans-serif">0</tspan><tspan font-family="Liberation Sans, sans-serif">0</tspan>V/S</text>
<text x="62.2" y="492.2" font-size="8.14" fill="#4c4c4c" stroke="#4c4c4c" stroke-width="0.15" font-family="Liberation Mono, monospace" textLength="15.5" lengthAdjust="spacingAndGlyphs">2<tspan font-family="Liberation Sans, sans-serif">0</tspan><tspan font-family="Liberation Sans, sans-serif">0</tspan>V</text>
<text x="62.6" y="517.6" font-size="8.14" fill="#4c4c4c" stroke="#4c4c4c" stroke-width="0.15" font-family="Liberation Mono, monospace" textLength="11.7" lengthAdjust="spacingAndGlyphs">r/R</text>
<text x="72.0" y="537.8" font-size="8.14" fill="#4c4c4c" stroke="#4c4c4c" stroke-width="0.15" font-family="Liberation Mono, monospace" textLength="3.8" lengthAdjust="spacingAndGlyphs">X</text>
<text x="72.0" y="557.1" font-size="8.14" fill="#4c4c4c" stroke="#4c4c4c" stroke-width="0.15" font-family="Liberation Mono, monospace" textLength="3.8" lengthAdjust="spacingAndGlyphs">Y</text>
<text x="126.3" y="380.6" font-size="8.14" fill="#4c4c4c" stroke="#4c4c4c" stroke-width="0.15" font-family="Liberation Mono, monospace" textLength="18.7" lengthAdjust="spacingAndGlyphs">3CN/4</text>
<text x="129.1" y="504.6" font-size="8.14" fill="#4c4c4c" stroke="#4c4c4c" stroke-width="0.15" font-family="Liberation Mono, monospace" textLength="18.7" lengthAdjust="spacingAndGlyphs">4CN/2</text>
<text x="148.1" y="524.8" font-size="8.35" fill="#4c4c4c" stroke="#4c4c4c" stroke-width="0.15" font-family="Liberation Mono, monospace" textLength="29.8" lengthAdjust="spacingAndGlyphs">FU1/ATM5</text>
<text x="155.0" y="390.6" font-size="8.14" fill="#4c4c4c" stroke="#4c4c4c" stroke-width="0.15" font-family="Liberation Mono, monospace" textLength="15.0" lengthAdjust="spacingAndGlyphs">46<tspan font-family="Liberation Sans, sans-serif">0</tspan>V</text>
<text x="155.0" y="409.8" font-size="8.14" fill="#4c4c4c" stroke="#4c4c4c" stroke-width="0.15" font-family="Liberation Mono, monospace" textLength="15.0" lengthAdjust="spacingAndGlyphs">44<tspan font-family="Liberation Sans, sans-serif">0</tspan>V</text>
<text x="155.0" y="429.2" font-size="8.14" fill="#4c4c4c" stroke="#4c4c4c" stroke-width="0.15" font-family="Liberation Mono, monospace" textLength="30.0" lengthAdjust="spacingAndGlyphs">4<tspan font-family="Liberation Sans, sans-serif">0</tspan><tspan font-family="Liberation Sans, sans-serif">0</tspan>/415V</text>
<text x="155.0" y="449.4" font-size="8.14" fill="#4c4c4c" stroke="#4c4c4c" stroke-width="0.15" font-family="Liberation Mono, monospace" textLength="15.0" lengthAdjust="spacingAndGlyphs">38<tspan font-family="Liberation Sans, sans-serif">0</tspan>V</text>
<text x="155.0" y="468.8" font-size="8.14" fill="#4c4c4c" stroke="#4c4c4c" stroke-width="0.15" font-family="Liberation Mono, monospace" textLength="15.0" lengthAdjust="spacingAndGlyphs">2<tspan font-family="Liberation Sans, sans-serif">0</tspan><tspan font-family="Liberation Sans, sans-serif">0</tspan>V</text>
<text x="155.0" y="488.5" font-size="8.14" fill="#4c4c4c" stroke="#4c4c4c" stroke-width="0.15" font-family="Liberation Mono, monospace" textLength="15.0" lengthAdjust="spacingAndGlyphs">2<tspan font-family="Liberation Sans, sans-serif">0</tspan><tspan font-family="Liberation Sans, sans-serif">0</tspan>V</text>
<line x1="212.5" y1="392.5" x2="520.5" y2="392.5" stroke="#808080" stroke-width="1"/>
<line x1="212.5" y1="509.5" x2="520.5" y2="509.5" stroke="#808080" stroke-width="1"/>
<line x1="250.5" y1="392.5" x2="250.5" y2="509.5" stroke="#808080" stroke-width="1"/>
<circle cx="250.5" cy="450.8" r="12.6" fill="#fff" stroke="#808080" stroke-width="1"/>
<text x="246.8" y="453.1" font-size="9.98" fill="#555" stroke="#555" stroke-width="0.15" font-family="Liberation Mono, monospace" textLength="9.0" lengthAdjust="spacingAndGlyphs" font-weight="bold">M1</text>
<line x1="281.5" y1="392.5" x2="281.5" y2="509.5" stroke="#808080" stroke-width="1"/>
<circle cx="281.5" cy="450.8" r="12.6" fill="#fff" stroke="#808080" stroke-width="1"/>
<text x="277.8" y="453.1" font-size="9.98" fill="#555" stroke="#555" stroke-width="0.15" font-family="Liberation Mono, monospace" textLength="9.0" lengthAdjust="spacingAndGlyphs" font-weight="bold">M1</text>
<line x1="313.5" y1="392.5" x2="313.5" y2="509.5" stroke="#808080" stroke-width="1"/>
<circle cx="313.5" cy="450.8" r="12.6" fill="#fff" stroke="#808080" stroke-width="1"/>
<text x="309.8" y="453.1" font-size="9.98" fill="#555" stroke="#555" stroke-width="0.15" font-family="Liberation Mono, monospace" textLength="9.0" lengthAdjust="spacingAndGlyphs" font-weight="bold">M1</text>
<line x1="345.5" y1="392.5" x2="345.5" y2="509.5" stroke="#808080" stroke-width="1"/>
<circle cx="345.5" cy="450.8" r="12.6" fill="#fff" stroke="#808080" stroke-width="1"/>
<text x="341.8" y="453.1" font-size="9.98" fill="#555" stroke="#555" stroke-width="0.15" font-family="Liberation Mono, monospace" textLength="9.0" lengthAdjust="spacingAndGlyphs" font-weight="bold">M1</text>
<text x="272.0" y="387.7" font-size="7.81" fill="#4c4c4c" stroke="#4c4c4c" stroke-width="0.15" font-family="Liberation Mono, monospace" textLength="19.5" lengthAdjust="spacingAndGlyphs">FANx4</text>
<line x1="399.5" y1="392.5" x2="399.5" y2="509.5" stroke="#808080" stroke-width="1"/>
<rect x="393.2" y="437.5" width="12.6" height="30.0" fill="#fff" stroke="#808080" stroke-width="1"/>
<line x1="399.5" y1="437.5" x2="399.5" y2="443.7" stroke="#808080" stroke-width="1"/>
<line x1="399.5" y1="460.5" x2="399.5" y2="467.5" stroke="#808080" stroke-width="1"/>
<text x="393.1" y="387.7" font-size="7.81" fill="#4c4c4c" stroke="#4c4c4c" stroke-width="0.15" font-family="Liberation Mono, monospace" textLength="11.0" lengthAdjust="spacingAndGlyphs">1CN</text>
<line x1="421.5" y1="392.5" x2="421.5" y2="509.5" stroke="#808080" stroke-width="1"/>
<rect x="415.2" y="437.5" width="12.6" height="30.0" fill="#fff" stroke="#808080" stroke-width="1"/>
<line x1="421.5" y1="437.5" x2="421.5" y2="443.7" stroke="#808080" stroke-width="1"/>
<line x1="421.5" y1="460.5" x2="421.5" y2="467.5" stroke="#808080" stroke-width="1"/>
<text x="418.1" y="387.7" font-size="7.81" fill="#4c4c4c" stroke="#4c4c4c" stroke-width="0.15" font-family="Liberation Mono, monospace" textLength="11.0" lengthAdjust="spacingAndGlyphs">2CN</text>
<line x1="443.5" y1="392.5" x2="443.5" y2="509.5" stroke="#808080" stroke-width="1"/>
<rect x="437.2" y="437.5" width="12.6" height="30.0" fill="#fff" stroke="#808080" stroke-width="1"/>
<line x1="443.5" y1="437.5" x2="443.5" y2="443.7" stroke="#808080" stroke-width="1"/>
<line x1="443.5" y1="460.5" x2="443.5" y2="467.5" stroke="#808080" stroke-width="1"/>
<text x="437.6" y="387.7" font-size="7.81" fill="#4c4c4c" stroke="#4c4c4c" stroke-width="0.15" font-family="Liberation Mono, monospace" textLength="11.0" lengthAdjust="spacingAndGlyphs">5CN</text>
<line x1="466.5" y1="392.5" x2="466.5" y2="509.5" stroke="#808080" stroke-width="1"/>
<line x1="466.5" y1="434.4" x2="466.5" y2="444.3" stroke="#111" stroke-width="1.2"/>
<line x1="466.5" y1="464.4" x2="466.5" y2="471.0" stroke="#111" stroke-width="1.2"/>
<rect x="464.5" y="444.5" width="4.0" height="20.0" fill="#fff" stroke="#808080" stroke-width="1"/>
<line x1="462.9" y1="457.5" x2="472.3" y2="457.5" stroke="#808080" stroke-width="1"/>
<line x1="472.3" y1="457.5" x2="482.0" y2="441.0" stroke="#808080" stroke-width="1"/>
<text x="472.5" y="449.6" font-size="7.05" fill="#4c4c4c" stroke="#4c4c4c" stroke-width="0.15" font-family="Liberation Mono, monospace" textLength="3.1" lengthAdjust="spacingAndGlyphs">u</text>
<line x1="520.5" y1="392.5" x2="520.5" y2="428.0" stroke="#808080" stroke-width="1"/>
<line x1="520.5" y1="466.7" x2="520.5" y2="509.5" stroke="#808080" stroke-width="1"/>
<line x1="520.5" y1="418.0" x2="520.5" y2="428.0" stroke="#111" stroke-width="1.3"/>
<line x1="520.5" y1="466.7" x2="520.5" y2="476.5" stroke="#111" stroke-width="1.3"/>
<polygon points="520.5,428.0 539.3,447.5 520.5,466.8 501.1,447.5" fill="none" stroke="#808080" stroke-width="1"/>
<line x1="488.5" y1="447.5" x2="501.1" y2="447.5" stroke="#111" stroke-width="1.3"/>
<line x1="539.3" y1="447.5" x2="551.5" y2="447.5" stroke="#111" stroke-width="1.3"/>
<polyline points="488.5,447.5 488.5,519.5 620.5,519.5" fill="none" stroke="#808080" stroke-width="1"/>
<polyline points="551.5,447.5 551.5,392.5 620.5,392.5" fill="none" stroke="#808080" stroke-width="1"/>
<polygon points="513.0,435.6 510.9,442.4 506.2,437.7" fill="#6a6a6a" stroke="#6a6a6a" stroke-width="0.4"/>
<line x1="516.4" y1="439.0" x2="509.6" y2="432.2" stroke="#666" stroke-width="1.1"/>
<polygon points="532.0,440.0 525.2,437.9 529.9,433.2" fill="#6a6a6a" stroke="#6a6a6a" stroke-width="0.4"/>
<line x1="528.6" y1="443.4" x2="535.4" y2="436.6" stroke="#666" stroke-width="1.1"/>
<polygon points="513.2,459.5 506.4,457.4 511.1,452.7" fill="#6a6a6a" stroke="#6a6a6a" stroke-width="0.4"/>
<line x1="509.8" y1="462.9" x2="516.6" y2="456.1" stroke="#666" stroke-width="1.1"/>
<polygon points="532.0,455.1 529.9,461.9 525.2,457.2" fill="#6a6a6a" stroke="#6a6a6a" stroke-width="0.4"/>
<line x1="535.4" y1="458.5" x2="528.6" y2="451.7" stroke="#666" stroke-width="1.1"/>
<line x1="514.0" y1="416.3" x2="518.0" y2="416.3" stroke="#222" stroke-width="1.2"/>
<text x="514.5" y="480.5" font-size="6.51" fill="#999" stroke="#999" stroke-width="0.15" font-family="Liberation Mono, monospace" textLength="2.9" lengthAdjust="spacingAndGlyphs">~</text>
<text x="486.5" y="445.5" font-size="5.42" fill="#4c4c4c" stroke="#4c4c4c" stroke-width="0.15" font-family="Liberation Mono, monospace" textLength="2.4" lengthAdjust="spacingAndGlyphs">4</text>
<text x="548.5" y="445.5" font-size="5.42" fill="#4c4c4c" stroke="#4c4c4c" stroke-width="0.15" font-family="Liberation Mono, monospace" textLength="2.4" lengthAdjust="spacingAndGlyphs">2</text>
<text x="542.0" y="465.5" font-size="8.14" fill="#4c4c4c" stroke="#4c4c4c" stroke-width="0.15" font-family="Liberation Mono, monospace" textLength="10.0" lengthAdjust="spacingAndGlyphs">DM1</text>
<line x1="577.5" y1="392.5" x2="577.5" y2="519.5" stroke="#808080" stroke-width="1"/>
<rect x="570.5" y="447.5" width="14.0" height="29.4" fill="#fff" stroke="#808080" stroke-width="1"/>
<line x1="577.5" y1="447.5" x2="577.5" y2="453.7" stroke="#808080" stroke-width="1"/>
<line x1="577.5" y1="469.8" x2="577.5" y2="477.0" stroke="#808080" stroke-width="1"/>
<text x="570.7" y="387.7" font-size="7.81" fill="#4c4c4c" stroke="#4c4c4c" stroke-width="0.15" font-family="Liberation Mono, monospace" textLength="15.2" lengthAdjust="spacingAndGlyphs">1<tspan font-family="Liberation Sans, sans-serif">0</tspan>CN</text>
<line x1="599.5" y1="392.5" x2="599.5" y2="519.5" stroke="#808080" stroke-width="1"/>
<rect x="593.5" y="458.8" width="12.0" height="3.2" fill="#fff" stroke="#fff" stroke-width="0"/>
<line x1="593.3" y1="458.8" x2="605.5" y2="458.8" stroke="#666" stroke-width="1.1"/>
<line x1="593.3" y1="462.2" x2="605.5" y2="462.2" stroke="#666" stroke-width="1.1"/>
<line x1="599.5" y1="446.0" x2="599.5" y2="458.8" stroke="#111" stroke-width="1.2"/>
<line x1="599.5" y1="462.0" x2="599.5" y2="472.0" stroke="#111" stroke-width="1.2"/>
<text x="601.5" y="457.5" font-size="5.42" fill="#4c4c4c" stroke="#4c4c4c" stroke-width="0.15" font-family="Liberation Mono, monospace" textLength="2.4" lengthAdjust="spacingAndGlyphs">+</text>
<text x="595.7" y="387.7" font-size="7.81" fill="#4c4c4c" stroke="#4c4c4c" stroke-width="0.15" font-family="Liberation Mono, monospace" textLength="7.5" lengthAdjust="spacingAndGlyphs">C7</text>
<text x="624.1" y="396.8" font-size="8.68" fill="#4c4c4c" stroke="#4c4c4c" stroke-width="0.15" font-family="Liberation Mono, monospace" textLength="8.5" lengthAdjust="spacingAndGlyphs">P1</text>
<text x="624.1" y="521.0" font-size="8.68" fill="#4c4c4c" stroke="#4c4c4c" stroke-width="0.15" font-family="Liberation Mono, monospace" textLength="8.5" lengthAdjust="spacingAndGlyphs">N1</text>
<rect x="726.5" y="379.5" width="13.0" height="72.0" fill="none" stroke="#808080" stroke-width="1"/>
<text x="729.4" y="387.8" font-size="8.68" fill="#4c4c4c" stroke="#4c4c4c" stroke-width="0.15" font-family="Liberation Mono, monospace" textLength="3.8" lengthAdjust="spacingAndGlyphs">1</text>
<text x="729.4" y="406.7" font-size="8.68" fill="#4c4c4c" stroke="#4c4c4c" stroke-width="0.15" font-family="Liberation Mono, monospace" textLength="3.8" lengthAdjust="spacingAndGlyphs">2</text>
<text x="729.4" y="422.7" font-size="8.68" fill="#4c4c4c" stroke="#4c4c4c" stroke-width="0.15" font-family="Liberation Mono, monospace" textLength="3.8" lengthAdjust="spacingAndGlyphs">3</text>
<text x="729.4" y="439.1" font-size="8.68" fill="#4c4c4c" stroke="#4c4c4c" stroke-width="0.15" font-family="Liberation Mono, monospace" textLength="3.8" lengthAdjust="spacingAndGlyphs">4</text>
<polyline points="732.0,395.5 780.5,395.5 780.5,411.5 732.0,411.5" fill="none" stroke="#808080" stroke-width="1"/>
<rect x="761.5" y="388.5" width="6.0" height="14.0" fill="#fff" stroke="#808080" stroke-width="1"/>
<text x="770.0" y="390.8" font-size="8.14" fill="#4c4c4c" stroke="#4c4c4c" stroke-width="0.15" font-family="Liberation Mono, monospace" textLength="11.1" lengthAdjust="spacingAndGlyphs">KA1</text>
<line x1="732.0" y1="428.5" x2="711.5" y2="428.5" stroke="#808080" stroke-width="1"/>
<line x1="691.0" y1="428.5" x2="709.8" y2="422.6" stroke="#808080" stroke-width="1"/>
<polyline points="691.0,428.5 675.5,428.5 675.5,444.5 732.0,444.5" fill="none" stroke="#808080" stroke-width="1"/>
<text x="693.8" y="422.2" font-size="7.59" fill="#4c4c4c" stroke="#4c4c4c" stroke-width="0.15" font-family="Liberation Mono, monospace" textLength="12.0" lengthAdjust="spacingAndGlyphs">KM<tspan font-family="Liberation Sans, sans-serif">0</tspan></text>
<text y="459.0" font-size="9" fill="#5a5a5a"><tspan x="666.6" font-family="Liberation Mono, monospace" font-size="10.3" textLength="17.0" lengthAdjust="spacingAndGlyphs">KM<tspan font-family="Liberation Sans, sans-serif">0</tspan>\</tspan><tspan x="684.6" textLength="35.9" lengthAdjust="spacingAndGlyphs">状态检测</tspan></text>
<text y="472.2" font-size="9" fill="#5a5a5a"><tspan x="666.6" textLength="34.0" lengthAdjust="spacingAndGlyphs">开路时跳</tspan><tspan x="701.0" font-family="Liberation Mono, monospace" font-size="10.3" textLength="8.4" lengthAdjust="spacingAndGlyphs">FU</tspan><tspan x="710.4" textLength="19.5" lengthAdjust="spacingAndGlyphs">故障</tspan></text>
<polygon points="751.5,382.5 846.5,382.5 846.5,408.5 818.5,408.5 818.5,457.5 751.5,457.5" fill="none" stroke="#808080" stroke-width="1"/>
<line x1="799.5" y1="395.5" x2="799.5" y2="454.5" stroke="#808080" stroke-width="1"/>
<line x1="799.5" y1="395.5" x2="823.0" y2="395.5" stroke="#808080" stroke-width="1"/>
<line x1="823.0" y1="395.5" x2="840.8" y2="389.0" stroke="#808080" stroke-width="1"/>
<polyline points="841.4,395.5 856.5,395.5 856.5,405.0" fill="none" stroke="#808080" stroke-width="1"/>
<rect x="797.5" y="408.5" width="4.0" height="20.0" fill="#fff" stroke="#808080" stroke-width="1"/>
<line x1="799.5" y1="396.0" x2="799.5" y2="408.5" stroke="#111" stroke-width="1.2"/>
<line x1="799.5" y1="428.5" x2="799.5" y2="442.0" stroke="#111" stroke-width="1.2"/>
<line x1="799.5" y1="446.0" x2="799.5" y2="454.0" stroke="#111" stroke-width="1.2"/>
<rect x="793.5" y="442.6" width="12.0" height="2.8" fill="#fff" stroke="#fff" stroke-width="0"/>
<line x1="793.5" y1="442.6" x2="805.5" y2="442.6" stroke="#808080" stroke-width="1"/>
<line x1="793.5" y1="445.5" x2="805.5" y2="445.5" stroke="#808080" stroke-width="1"/>
<text x="789.1" y="419.6" font-size="8.25" fill="#4c4c4c" stroke="#4c4c4c" stroke-width="0.15" font-family="Liberation Mono, monospace" textLength="3.9" lengthAdjust="spacingAndGlyphs">R</text>
<text x="786.3" y="445.6" font-size="8.25" fill="#4c4c4c" stroke="#4c4c4c" stroke-width="0.15" font-family="Liberation Mono, monospace" textLength="3.9" lengthAdjust="spacingAndGlyphs">C</text>
<text x="815.1" y="390.8" font-size="8.14" fill="#4c4c4c" stroke="#4c4c4c" stroke-width="0.15" font-family="Liberation Mono, monospace" textLength="10.5" lengthAdjust="spacingAndGlyphs">KA1</text>
<polyline points="815.5,395.5 815.5,415.5 831.5,415.5 831.5,437.5" fill="none" stroke="#808080" stroke-width="1"/>
<rect x="821.5" y="437.5" width="20.0" height="10.0" fill="#fff" stroke="#808080" stroke-width="1"/>
<text x="827.1" y="445.6" font-size="7.59" fill="#4c4c4c" stroke="#4c4c4c" stroke-width="0.15" font-family="Liberation Mono, monospace" textLength="11.5" lengthAdjust="spacingAndGlyphs">KM<tspan font-family="Liberation Sans, sans-serif">0</tspan></text>
<line x1="831.5" y1="447.5" x2="831.5" y2="454.5" stroke="#808080" stroke-width="1"/>
<polyline points="799.5,454.5 856.5,454.5 856.5,434.5" fill="none" stroke="#808080" stroke-width="1"/>
<rect x="850.5" y="405.0" width="12.0" height="29.5" fill="#fff" stroke="#808080" stroke-width="1"/>
<line x1="856.5" y1="405.0" x2="856.5" y2="411.7" stroke="#808080" stroke-width="1"/>
<line x1="856.5" y1="427.9" x2="856.5" y2="434.5" stroke="#808080" stroke-width="1"/>
<text x="866.2" y="422.8" font-size="8.14" fill="#4c4c4c" stroke="#4c4c4c" stroke-width="0.15" font-family="Liberation Mono, monospace" textLength="11.0" lengthAdjust="spacingAndGlyphs">5CN</text>
<text x="688.4" y="491.6" font-size="8.14" fill="#4c4c4c" stroke="#4c4c4c" stroke-width="0.15" font-family="Liberation Mono, monospace" textLength="14.5" lengthAdjust="spacingAndGlyphs">16CN</text>
<rect x="688.5" y="496.0" width="12.0" height="30.4" fill="none" stroke="#808080" stroke-width="1"/>
<text y="538.2" font-size="9" fill="#5a5a5a"><tspan x="663.0" textLength="26.5" lengthAdjust="spacingAndGlyphs">已短接</tspan></text>
<text y="551.3" font-size="9" fill="#5a5a5a"><tspan x="663.0" textLength="35.7" lengthAdjust="spacingAndGlyphs">开路时跳</tspan><tspan x="699.4" font-family="Liberation Mono, monospace" font-size="10.3" textLength="8.6" lengthAdjust="spacingAndGlyphs">OH</tspan><tspan x="709.1" textLength="16.6" lengthAdjust="spacingAndGlyphs">故障</tspan></text>
<text x="781.0" y="491.6" font-size="8.14" fill="#4c4c4c" stroke="#4c4c4c" stroke-width="0.15" font-family="Liberation Mono, monospace" textLength="33.0" lengthAdjust="spacingAndGlyphs">14CN/15CN</text>
<rect x="780.5" y="496.0" width="12.7" height="30.4" fill="none" stroke="#808080" stroke-width="1"/>
<rect x="784.9" y="501.3" width="3.2" height="3.2" fill="#333" stroke="#333" stroke-width="0.3"/>
<text y="538.2" font-size="9" fill="#5a5a5a"><tspan x="754.7" textLength="55.0" lengthAdjust="spacingAndGlyphs">外接热传感器</tspan></text>
<text y="551.3" font-size="9" fill="#5a5a5a"><tspan x="754.7" textLength="35.7" lengthAdjust="spacingAndGlyphs">开路时跳</tspan><tspan x="791.1" font-family="Liberation Mono, monospace" font-size="10.3" textLength="8.6" lengthAdjust="spacingAndGlyphs">OH</tspan><tspan x="800.8" textLength="16.6" lengthAdjust="spacingAndGlyphs">故障</tspan></text>
<circle cx="59.5" cy="108.2" r="1.1" fill="#2a2a2a"/>
<circle cx="85.5" cy="108.2" r="1.1" fill="#2a2a2a"/>
<circle cx="116.5" cy="108.2" r="1.1" fill="#2a2a2a"/>
<circle cx="59.5" cy="196.2" r="1.1" fill="#2a2a2a"/>
<circle cx="139.5" cy="196.2" r="1.1" fill="#2a2a2a"/>
<circle cx="59.5" cy="284.2" r="1.1" fill="#2a2a2a"/>
<circle cx="85.5" cy="284.2" r="1.1" fill="#2a2a2a"/>
<circle cx="161.5" cy="284.2" r="1.1" fill="#2a2a2a"/>
<circle cx="139.5" cy="62.2" r="0.94" fill="#2a2a2a"/>
<circle cx="161.5" cy="62.2" r="0.94" fill="#2a2a2a"/>
<circle cx="186.5" cy="62.2" r="1.02" fill="#2a2a2a"/>
<circle cx="259.5" cy="62.2" r="1.02" fill="#2a2a2a"/>
<circle cx="186.5" cy="78.2" r="1.02" fill="#2a2a2a"/>
<circle cx="259.5" cy="78.2" r="1.02" fill="#2a2a2a"/>
<circle cx="186.5" cy="94.2" r="1.02" fill="#2a2a2a"/>
<circle cx="259.5" cy="94.2" r="1.02" fill="#2a2a2a"/>
<circle cx="310.5" cy="62.2" r="1.02" fill="#2a2a2a"/>
<circle cx="329.0" cy="62.2" r="1.02" fill="#2a2a2a"/>
<circle cx="332.0" cy="330.2" r="1.02" fill="#2a2a2a"/>
<circle cx="310.5" cy="330.2" r="1.02" fill="#2a2a2a"/>
<circle cx="237.5" cy="147.2" r="0.85" fill="#2a2a2a"/>
<circle cx="237.5" cy="219.2" r="0.85" fill="#2a2a2a"/>
<circle cx="259.5" cy="147.2" r="0.85" fill="#2a2a2a"/>
<circle cx="259.5" cy="219.2" r="0.85" fill="#2a2a2a"/>
<circle cx="259.5" cy="287.2" r="0.85" fill="#2a2a2a"/>
<circle cx="281.5" cy="147.2" r="0.85" fill="#2a2a2a"/>
<circle cx="281.5" cy="219.2" r="0.85" fill="#2a2a2a"/>
<circle cx="281.5" cy="287.2" r="0.85" fill="#2a2a2a"/>
<circle cx="310.5" cy="219.2" r="0.85" fill="#2a2a2a"/>
<circle cx="310.5" cy="147.2" r="0.85" fill="#2a2a2a"/>
<circle cx="310.5" cy="287.2" r="0.85" fill="#2a2a2a"/>
<circle cx="380.5" cy="62.2" r="1.02" fill="#2a2a2a"/>
<circle cx="380.5" cy="104.2" r="0.94" fill="#2a2a2a"/>
<circle cx="380.5" cy="134.2" r="0.94" fill="#2a2a2a"/>
<circle cx="380.5" cy="144.2" r="0.94" fill="#2a2a2a"/>
<circle cx="418.5" cy="98.2" r="0.85" fill="#2a2a2a"/>
<circle cx="418.5" cy="127.2" r="0.85" fill="#2a2a2a"/>
<circle cx="418.5" cy="62.2" r="1.02" fill="#2a2a2a"/>
<circle cx="459.5" cy="62.2" r="1.02" fill="#2a2a2a"/>
<circle cx="459.5" cy="101.2" r="0.85" fill="#2a2a2a"/>
<circle cx="456.5" cy="134.2" r="0.94" fill="#2a2a2a"/>
<circle cx="440.5" cy="134.2" r="0.85" fill="#2a2a2a"/>
<circle cx="472.5" cy="62.2" r="1.02" fill="#2a2a2a"/>
<circle cx="380.5" cy="163.2" r="1.02" fill="#2a2a2a"/>
<circle cx="380.5" cy="199.2" r="0.94" fill="#2a2a2a"/>
<circle cx="380.5" cy="215.2" r="0.94" fill="#2a2a2a"/>
<circle cx="380.5" cy="245.2" r="0.94" fill="#2a2a2a"/>
<circle cx="380.5" cy="255.2" r="0.94" fill="#2a2a2a"/>
<circle cx="418.5" cy="209.2" r="0.85" fill="#2a2a2a"/>
<circle cx="418.5" cy="238.2" r="0.85" fill="#2a2a2a"/>
<circle cx="418.5" cy="199.2" r="0.94" fill="#2a2a2a"/>
<circle cx="418.5" cy="255.2" r="0.94" fill="#2a2a2a"/>
<circle cx="472.5" cy="222.2" r="0.94" fill="#2a2a2a"/>
<circle cx="380.5" cy="330.2" r="1.02" fill="#2a2a2a"/>
<circle cx="548.5" cy="62.2" r="1.02" fill="#2a2a2a"/>
<circle cx="548.5" cy="104.2" r="0.94" fill="#2a2a2a"/>
<circle cx="548.5" cy="134.2" r="0.94" fill="#2a2a2a"/>
<circle cx="548.5" cy="144.2" r="0.94" fill="#2a2a2a"/>
<circle cx="586.5" cy="98.2" r="0.85" fill="#2a2a2a"/>
<circle cx="586.5" cy="127.2" r="0.85" fill="#2a2a2a"/>
<circle cx="586.5" cy="62.2" r="1.02" fill="#2a2a2a"/>
<circle cx="627.5" cy="62.2" r="1.02" fill="#2a2a2a"/>
<circle cx="627.5" cy="101.2" r="0.85" fill="#2a2a2a"/>
<circle cx="624.5" cy="134.2" r="0.94" fill="#2a2a2a"/>
<circle cx="608.5" cy="134.2" r="0.85" fill="#2a2a2a"/>
<circle cx="640.5" cy="62.2" r="1.02" fill="#2a2a2a"/>
<circle cx="548.5" cy="179.2" r="1.02" fill="#2a2a2a"/>
<circle cx="548.5" cy="199.2" r="0.94" fill="#2a2a2a"/>
<circle cx="548.5" cy="215.2" r="0.94" fill="#2a2a2a"/>
<circle cx="548.5" cy="245.2" r="0.94" fill="#2a2a2a"/>
<circle cx="548.5" cy="255.2" r="0.94" fill="#2a2a2a"/>
<circle cx="586.5" cy="209.2" r="0.85" fill="#2a2a2a"/>
<circle cx="586.5" cy="238.2" r="0.85" fill="#2a2a2a"/>
<circle cx="586.5" cy="199.2" r="0.94" fill="#2a2a2a"/>
<circle cx="586.5" cy="255.2" r="0.94" fill="#2a2a2a"/>
<circle cx="640.5" cy="222.2" r="0.94" fill="#2a2a2a"/>
<circle cx="548.5" cy="330.2" r="1.02" fill="#2a2a2a"/>
<circle cx="716.5" cy="62.2" r="1.02" fill="#2a2a2a"/>
<circle cx="716.5" cy="104.2" r="0.94" fill="#2a2a2a"/>
<circle cx="716.5" cy="134.2" r="0.94" fill="#2a2a2a"/>
<circle cx="716.5" cy="144.2" r="0.94" fill="#2a2a2a"/>
<circle cx="754.5" cy="98.2" r="0.85" fill="#2a2a2a"/>
<circle cx="754.5" cy="127.2" r="0.85" fill="#2a2a2a"/>
<circle cx="754.5" cy="62.2" r="1.02" fill="#2a2a2a"/>
<circle cx="796.5" cy="62.2" r="1.02" fill="#2a2a2a"/>
<circle cx="796.5" cy="101.2" r="0.85" fill="#2a2a2a"/>
<circle cx="793.5" cy="134.2" r="0.94" fill="#2a2a2a"/>
<circle cx="777.5" cy="134.2" r="0.85" fill="#2a2a2a"/>
<circle cx="716.5" cy="196.2" r="1.02" fill="#2a2a2a"/>
<circle cx="716.5" cy="199.2" r="0.94" fill="#2a2a2a"/>
<circle cx="716.5" cy="215.2" r="0.94" fill="#2a2a2a"/>
<circle cx="716.5" cy="245.2" r="0.94" fill="#2a2a2a"/>
<circle cx="716.5" cy="255.2" r="0.94" fill="#2a2a2a"/>
<circle cx="754.5" cy="209.2" r="0.85" fill="#2a2a2a"/>
<circle cx="754.5" cy="238.2" r="0.85" fill="#2a2a2a"/>
<circle cx="754.5" cy="199.2" r="0.94" fill="#2a2a2a"/>
<circle cx="754.5" cy="255.2" r="0.94" fill="#2a2a2a"/>
<circle cx="808.5" cy="222.2" r="0.94" fill="#2a2a2a"/>
<circle cx="716.5" cy="330.2" r="1.02" fill="#2a2a2a"/>
<circle cx="799.0" cy="291.5" r="1.5" fill="#2a2a2a"/>
<circle cx="799.0" cy="307.5" r="1.5" fill="#2a2a2a"/>
<circle cx="799.0" cy="323.5" r="1.5" fill="#2a2a2a"/>
<circle cx="830.8" cy="323.2" r="0.94" fill="#2a2a2a"/>
<circle cx="850.5" cy="291.2" r="0.94" fill="#2a2a2a"/>
<circle cx="850.5" cy="323.2" r="0.94" fill="#2a2a2a"/>
<circle cx="129.3" cy="392.5" r="1.5" fill="#2a2a2a"/>
<circle cx="145.0" cy="392.5" r="1.5" fill="#2a2a2a"/>
<circle cx="129.3" cy="411.5" r="1.5" fill="#2a2a2a"/>
<circle cx="145.0" cy="411.5" r="1.5" fill="#2a2a2a"/>
<circle cx="129.3" cy="431.5" r="1.5" fill="#2a2a2a"/>
<circle cx="145.0" cy="431.5" r="1.5" fill="#2a2a2a"/>
<circle cx="129.3" cy="451.5" r="1.5" fill="#2a2a2a"/>
<circle cx="145.0" cy="451.5" r="1.5" fill="#2a2a2a"/>
<circle cx="129.3" cy="470.5" r="1.5" fill="#2a2a2a"/>
<circle cx="145.0" cy="470.5" r="1.5" fill="#2a2a2a"/>
<circle cx="129.3" cy="490.5" r="1.5" fill="#2a2a2a"/>
<circle cx="145.0" cy="490.5" r="1.5" fill="#2a2a2a"/>
<circle cx="107.5" cy="392.2" r="0.85" fill="#2a2a2a"/>
<circle cx="107.5" cy="411.2" r="0.85" fill="#2a2a2a"/>
<circle cx="107.5" cy="431.2" r="0.85" fill="#2a2a2a"/>
<circle cx="107.5" cy="490.2" r="0.85" fill="#2a2a2a"/>
<circle cx="199.5" cy="431.2" r="0.85" fill="#2a2a2a"/>
<circle cx="199.5" cy="470.2" r="0.85" fill="#2a2a2a"/>
<circle cx="250.5" cy="392.2" r="0.85" fill="#2a2a2a"/>
<circle cx="250.5" cy="509.2" r="0.85" fill="#2a2a2a"/>
<circle cx="281.5" cy="392.2" r="0.85" fill="#2a2a2a"/>
<circle cx="281.5" cy="509.2" r="0.85" fill="#2a2a2a"/>
<circle cx="313.5" cy="392.2" r="0.85" fill="#2a2a2a"/>
<circle cx="313.5" cy="509.2" r="0.85" fill="#2a2a2a"/>
<circle cx="345.5" cy="392.2" r="0.85" fill="#2a2a2a"/>
<circle cx="345.5" cy="509.2" r="0.85" fill="#2a2a2a"/>
<circle cx="373.5" cy="392.2" r="0.85" fill="#2a2a2a"/>
<circle cx="386.5" cy="509.2" r="0.85" fill="#2a2a2a"/>
<circle cx="399.5" cy="392.2" r="0.85" fill="#2a2a2a"/>
<circle cx="399.5" cy="509.2" r="0.85" fill="#2a2a2a"/>
<circle cx="399.5" cy="443.9" r="1.4" fill="#2a2a2a"/>
<circle cx="399.5" cy="460.5" r="1.4" fill="#2a2a2a"/>
<circle cx="421.5" cy="392.2" r="0.85" fill="#2a2a2a"/>
<circle cx="421.5" cy="509.2" r="0.85" fill="#2a2a2a"/>
<circle cx="421.5" cy="443.9" r="1.4" fill="#2a2a2a"/>
<circle cx="421.5" cy="460.5" r="1.4" fill="#2a2a2a"/>
<circle cx="443.5" cy="392.2" r="0.85" fill="#2a2a2a"/>
<circle cx="443.5" cy="509.2" r="0.85" fill="#2a2a2a"/>
<circle cx="443.5" cy="443.9" r="1.4" fill="#2a2a2a"/>
<circle cx="443.5" cy="460.5" r="1.4" fill="#2a2a2a"/>
<circle cx="466.5" cy="392.2" r="0.85" fill="#2a2a2a"/>
<circle cx="466.5" cy="509.2" r="0.85" fill="#2a2a2a"/>
<circle cx="577.5" cy="392.2" r="0.85" fill="#2a2a2a"/>
<circle cx="577.5" cy="519.2" r="0.85" fill="#2a2a2a"/>
<circle cx="577.5" cy="453.7" r="1.5" fill="#2a2a2a"/>
<circle cx="577.5" cy="469.8" r="1.5" fill="#2a2a2a"/>
<circle cx="599.5" cy="392.2" r="0.85" fill="#2a2a2a"/>
<circle cx="599.5" cy="519.2" r="0.85" fill="#2a2a2a"/>
<circle cx="732.0" cy="395.5" r="1.5" fill="#2a2a2a"/>
<circle cx="732.0" cy="411.5" r="1.5" fill="#2a2a2a"/>
<circle cx="732.0" cy="428.5" r="1.5" fill="#2a2a2a"/>
<circle cx="732.0" cy="444.5" r="1.5" fill="#2a2a2a"/>
<circle cx="815.5" cy="395.2" r="0.85" fill="#2a2a2a"/>
<circle cx="831.5" cy="454.2" r="0.85" fill="#2a2a2a"/>
<circle cx="856.5" cy="411.7" r="1.5" fill="#2a2a2a"/>
<circle cx="856.5" cy="427.9" r="1.5" fill="#2a2a2a"/>
<circle cx="694.4" cy="502.9" r="1.5" fill="#2a2a2a"/>
<circle cx="694.4" cy="519.1" r="1.5" fill="#2a2a2a"/>
<circle cx="786.5" cy="519.1" r="1.5" fill="#2a2a2a"/>
</g>
</svg>
</body></html>
